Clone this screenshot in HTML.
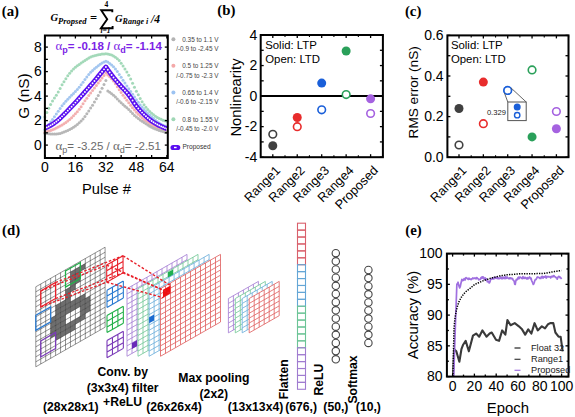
<!DOCTYPE html>
<html><head><meta charset="utf-8"><style>
html,body{margin:0;padding:0;background:#fff;overflow:hidden}
svg{display:block}
</style></head><body>
<svg width="575" height="417" viewBox="0 0 575 417">
<rect width="575" height="417" fill="#fff"/>
<text x="1.80" y="15.90" font-size="14.8" text-anchor="start" font-weight="bold" font-style="normal" fill="#000" font-family='"Liberation Serif", serif' >(a)</text>
<text x="217.30" y="15.40" font-size="14.8" text-anchor="start" font-weight="bold" font-style="normal" fill="#000" font-family='"Liberation Serif", serif' >(b)</text>
<text x="404.90" y="16.10" font-size="14.8" text-anchor="start" font-weight="bold" font-style="normal" fill="#000" font-family='"Liberation Serif", serif' >(c)</text>
<text x="2.00" y="235.20" font-size="14.8" text-anchor="start" font-weight="bold" font-style="normal" fill="#000" font-family='"Liberation Serif", serif' >(d)</text>
<text x="405.30" y="235.30" font-size="14.8" text-anchor="start" font-weight="bold" font-style="normal" fill="#000" font-family='"Liberation Serif", serif' >(e)</text>
<g>
<circle cx="44.90" cy="116.92" r="1.50" fill="#a3d9b9" stroke="none" stroke-width="1" />
<circle cx="46.81" cy="112.50" r="1.50" fill="#a3d9b9" stroke="none" stroke-width="1" />
<circle cx="48.71" cy="108.35" r="1.50" fill="#a3d9b9" stroke="none" stroke-width="1" />
<circle cx="50.62" cy="104.53" r="1.50" fill="#a3d9b9" stroke="none" stroke-width="1" />
<circle cx="52.52" cy="101.10" r="1.50" fill="#a3d9b9" stroke="none" stroke-width="1" />
<circle cx="54.43" cy="98.06" r="1.50" fill="#a3d9b9" stroke="none" stroke-width="1" />
<circle cx="56.34" cy="95.13" r="1.50" fill="#a3d9b9" stroke="none" stroke-width="1" />
<circle cx="58.24" cy="92.02" r="1.50" fill="#a3d9b9" stroke="none" stroke-width="1" />
<circle cx="60.15" cy="88.46" r="1.50" fill="#a3d9b9" stroke="none" stroke-width="1" />
<circle cx="62.05" cy="84.83" r="1.50" fill="#a3d9b9" stroke="none" stroke-width="1" />
<circle cx="63.96" cy="81.69" r="1.50" fill="#a3d9b9" stroke="none" stroke-width="1" />
<circle cx="65.87" cy="78.70" r="1.50" fill="#a3d9b9" stroke="none" stroke-width="1" />
<circle cx="67.77" cy="75.87" r="1.50" fill="#a3d9b9" stroke="none" stroke-width="1" />
<circle cx="69.68" cy="73.27" r="1.50" fill="#a3d9b9" stroke="none" stroke-width="1" />
<circle cx="71.58" cy="70.97" r="1.50" fill="#a3d9b9" stroke="none" stroke-width="1" />
<circle cx="73.49" cy="69.02" r="1.50" fill="#a3d9b9" stroke="none" stroke-width="1" />
<circle cx="75.40" cy="67.31" r="1.50" fill="#a3d9b9" stroke="none" stroke-width="1" />
<circle cx="77.30" cy="65.78" r="1.50" fill="#a3d9b9" stroke="none" stroke-width="1" />
<circle cx="79.21" cy="64.38" r="1.50" fill="#a3d9b9" stroke="none" stroke-width="1" />
<circle cx="81.11" cy="63.07" r="1.50" fill="#a3d9b9" stroke="none" stroke-width="1" />
<circle cx="83.02" cy="61.80" r="1.50" fill="#a3d9b9" stroke="none" stroke-width="1" />
<circle cx="84.93" cy="60.51" r="1.50" fill="#a3d9b9" stroke="none" stroke-width="1" />
<circle cx="86.83" cy="59.22" r="1.50" fill="#a3d9b9" stroke="none" stroke-width="1" />
<circle cx="88.74" cy="58.02" r="1.50" fill="#a3d9b9" stroke="none" stroke-width="1" />
<circle cx="90.64" cy="57.01" r="1.50" fill="#a3d9b9" stroke="none" stroke-width="1" />
<circle cx="92.55" cy="56.29" r="1.50" fill="#a3d9b9" stroke="none" stroke-width="1" />
<circle cx="94.46" cy="55.75" r="1.50" fill="#a3d9b9" stroke="none" stroke-width="1" />
<circle cx="96.36" cy="55.24" r="1.50" fill="#a3d9b9" stroke="none" stroke-width="1" />
<circle cx="98.27" cy="54.79" r="1.50" fill="#a3d9b9" stroke="none" stroke-width="1" />
<circle cx="100.17" cy="54.40" r="1.50" fill="#a3d9b9" stroke="none" stroke-width="1" />
<circle cx="102.08" cy="54.10" r="1.50" fill="#a3d9b9" stroke="none" stroke-width="1" />
<circle cx="103.99" cy="53.91" r="1.50" fill="#a3d9b9" stroke="none" stroke-width="1" />
<circle cx="105.89" cy="53.84" r="1.50" fill="#a3d9b9" stroke="none" stroke-width="1" />
<circle cx="107.80" cy="54.02" r="1.50" fill="#a3d9b9" stroke="none" stroke-width="1" />
<circle cx="109.70" cy="54.48" r="1.50" fill="#a3d9b9" stroke="none" stroke-width="1" />
<circle cx="111.61" cy="55.06" r="1.50" fill="#a3d9b9" stroke="none" stroke-width="1" />
<circle cx="113.52" cy="55.90" r="1.50" fill="#a3d9b9" stroke="none" stroke-width="1" />
<circle cx="115.42" cy="57.14" r="1.50" fill="#a3d9b9" stroke="none" stroke-width="1" />
<circle cx="117.33" cy="58.67" r="1.50" fill="#a3d9b9" stroke="none" stroke-width="1" />
<circle cx="119.23" cy="60.57" r="1.50" fill="#a3d9b9" stroke="none" stroke-width="1" />
<circle cx="121.14" cy="63.21" r="1.50" fill="#a3d9b9" stroke="none" stroke-width="1" />
<circle cx="123.05" cy="66.09" r="1.50" fill="#a3d9b9" stroke="none" stroke-width="1" />
<circle cx="124.95" cy="68.95" r="1.50" fill="#a3d9b9" stroke="none" stroke-width="1" />
<circle cx="126.86" cy="71.99" r="1.50" fill="#a3d9b9" stroke="none" stroke-width="1" />
<circle cx="128.76" cy="75.27" r="1.50" fill="#a3d9b9" stroke="none" stroke-width="1" />
<circle cx="130.67" cy="79.01" r="1.50" fill="#a3d9b9" stroke="none" stroke-width="1" />
<circle cx="132.58" cy="83.13" r="1.50" fill="#a3d9b9" stroke="none" stroke-width="1" />
<circle cx="134.48" cy="87.30" r="1.50" fill="#a3d9b9" stroke="none" stroke-width="1" />
<circle cx="136.39" cy="91.20" r="1.50" fill="#a3d9b9" stroke="none" stroke-width="1" />
<circle cx="138.29" cy="94.87" r="1.50" fill="#a3d9b9" stroke="none" stroke-width="1" />
<circle cx="140.20" cy="98.45" r="1.50" fill="#a3d9b9" stroke="none" stroke-width="1" />
<circle cx="142.11" cy="101.78" r="1.50" fill="#a3d9b9" stroke="none" stroke-width="1" />
<circle cx="144.01" cy="104.67" r="1.50" fill="#a3d9b9" stroke="none" stroke-width="1" />
<circle cx="145.92" cy="107.18" r="1.50" fill="#a3d9b9" stroke="none" stroke-width="1" />
<circle cx="147.82" cy="109.46" r="1.50" fill="#a3d9b9" stroke="none" stroke-width="1" />
<circle cx="149.73" cy="111.48" r="1.50" fill="#a3d9b9" stroke="none" stroke-width="1" />
<circle cx="151.64" cy="113.25" r="1.50" fill="#a3d9b9" stroke="none" stroke-width="1" />
<circle cx="153.54" cy="114.82" r="1.50" fill="#a3d9b9" stroke="none" stroke-width="1" />
<circle cx="155.45" cy="116.25" r="1.50" fill="#a3d9b9" stroke="none" stroke-width="1" />
<circle cx="157.35" cy="117.50" r="1.50" fill="#a3d9b9" stroke="none" stroke-width="1" />
<circle cx="159.26" cy="118.52" r="1.50" fill="#a3d9b9" stroke="none" stroke-width="1" />
<circle cx="161.17" cy="119.37" r="1.50" fill="#a3d9b9" stroke="none" stroke-width="1" />
<circle cx="163.07" cy="120.13" r="1.50" fill="#a3d9b9" stroke="none" stroke-width="1" />
<circle cx="164.98" cy="120.76" r="1.50" fill="#a3d9b9" stroke="none" stroke-width="1" />
<circle cx="166.88" cy="121.21" r="1.50" fill="#a3d9b9" stroke="none" stroke-width="1" />
<circle cx="44.90" cy="129.79" r="1.50" fill="#a3c6f0" stroke="none" stroke-width="1" />
<circle cx="46.81" cy="127.20" r="1.50" fill="#a3c6f0" stroke="none" stroke-width="1" />
<circle cx="48.71" cy="124.60" r="1.50" fill="#a3c6f0" stroke="none" stroke-width="1" />
<circle cx="50.62" cy="122.00" r="1.50" fill="#a3c6f0" stroke="none" stroke-width="1" />
<circle cx="52.52" cy="119.38" r="1.50" fill="#a3c6f0" stroke="none" stroke-width="1" />
<circle cx="54.43" cy="116.69" r="1.50" fill="#a3c6f0" stroke="none" stroke-width="1" />
<circle cx="56.34" cy="113.94" r="1.50" fill="#a3c6f0" stroke="none" stroke-width="1" />
<circle cx="58.24" cy="111.17" r="1.50" fill="#a3c6f0" stroke="none" stroke-width="1" />
<circle cx="60.15" cy="108.46" r="1.50" fill="#a3c6f0" stroke="none" stroke-width="1" />
<circle cx="62.05" cy="105.86" r="1.50" fill="#a3c6f0" stroke="none" stroke-width="1" />
<circle cx="63.96" cy="103.45" r="1.50" fill="#a3c6f0" stroke="none" stroke-width="1" />
<circle cx="65.87" cy="101.24" r="1.50" fill="#a3c6f0" stroke="none" stroke-width="1" />
<circle cx="67.77" cy="99.18" r="1.50" fill="#a3c6f0" stroke="none" stroke-width="1" />
<circle cx="69.68" cy="97.22" r="1.50" fill="#a3c6f0" stroke="none" stroke-width="1" />
<circle cx="71.58" cy="95.31" r="1.50" fill="#a3c6f0" stroke="none" stroke-width="1" />
<circle cx="73.49" cy="93.41" r="1.50" fill="#a3c6f0" stroke="none" stroke-width="1" />
<circle cx="75.40" cy="91.46" r="1.50" fill="#a3c6f0" stroke="none" stroke-width="1" />
<circle cx="77.30" cy="89.42" r="1.50" fill="#a3c6f0" stroke="none" stroke-width="1" />
<circle cx="79.21" cy="87.24" r="1.50" fill="#a3c6f0" stroke="none" stroke-width="1" />
<circle cx="81.11" cy="84.82" r="1.50" fill="#a3c6f0" stroke="none" stroke-width="1" />
<circle cx="83.02" cy="82.23" r="1.50" fill="#a3c6f0" stroke="none" stroke-width="1" />
<circle cx="84.93" cy="79.59" r="1.50" fill="#a3c6f0" stroke="none" stroke-width="1" />
<circle cx="86.83" cy="76.98" r="1.50" fill="#a3c6f0" stroke="none" stroke-width="1" />
<circle cx="88.74" cy="74.50" r="1.50" fill="#a3c6f0" stroke="none" stroke-width="1" />
<circle cx="90.64" cy="72.27" r="1.50" fill="#a3c6f0" stroke="none" stroke-width="1" />
<circle cx="92.55" cy="70.38" r="1.50" fill="#a3c6f0" stroke="none" stroke-width="1" />
<circle cx="94.46" cy="68.72" r="1.50" fill="#a3c6f0" stroke="none" stroke-width="1" />
<circle cx="96.36" cy="67.15" r="1.50" fill="#a3c6f0" stroke="none" stroke-width="1" />
<circle cx="98.27" cy="65.68" r="1.50" fill="#a3c6f0" stroke="none" stroke-width="1" />
<circle cx="100.17" cy="64.33" r="1.50" fill="#a3c6f0" stroke="none" stroke-width="1" />
<circle cx="102.08" cy="63.12" r="1.50" fill="#a3c6f0" stroke="none" stroke-width="1" />
<circle cx="103.99" cy="62.06" r="1.50" fill="#a3c6f0" stroke="none" stroke-width="1" />
<circle cx="105.89" cy="61.19" r="1.50" fill="#a3c6f0" stroke="none" stroke-width="1" />
<circle cx="107.80" cy="62.11" r="1.50" fill="#a3c6f0" stroke="none" stroke-width="1" />
<circle cx="109.70" cy="63.39" r="1.50" fill="#a3c6f0" stroke="none" stroke-width="1" />
<circle cx="111.61" cy="64.95" r="1.50" fill="#a3c6f0" stroke="none" stroke-width="1" />
<circle cx="113.52" cy="66.70" r="1.50" fill="#a3c6f0" stroke="none" stroke-width="1" />
<circle cx="115.42" cy="68.89" r="1.50" fill="#a3c6f0" stroke="none" stroke-width="1" />
<circle cx="117.33" cy="71.60" r="1.50" fill="#a3c6f0" stroke="none" stroke-width="1" />
<circle cx="119.23" cy="74.51" r="1.50" fill="#a3c6f0" stroke="none" stroke-width="1" />
<circle cx="121.14" cy="77.33" r="1.50" fill="#a3c6f0" stroke="none" stroke-width="1" />
<circle cx="123.05" cy="80.15" r="1.50" fill="#a3c6f0" stroke="none" stroke-width="1" />
<circle cx="124.95" cy="83.03" r="1.50" fill="#a3c6f0" stroke="none" stroke-width="1" />
<circle cx="126.86" cy="85.91" r="1.50" fill="#a3c6f0" stroke="none" stroke-width="1" />
<circle cx="128.76" cy="88.75" r="1.50" fill="#a3c6f0" stroke="none" stroke-width="1" />
<circle cx="130.67" cy="91.56" r="1.50" fill="#a3c6f0" stroke="none" stroke-width="1" />
<circle cx="132.58" cy="94.37" r="1.50" fill="#a3c6f0" stroke="none" stroke-width="1" />
<circle cx="134.48" cy="97.12" r="1.50" fill="#a3c6f0" stroke="none" stroke-width="1" />
<circle cx="136.39" cy="99.77" r="1.50" fill="#a3c6f0" stroke="none" stroke-width="1" />
<circle cx="138.29" cy="102.37" r="1.50" fill="#a3c6f0" stroke="none" stroke-width="1" />
<circle cx="140.20" cy="104.92" r="1.50" fill="#a3c6f0" stroke="none" stroke-width="1" />
<circle cx="142.11" cy="107.35" r="1.50" fill="#a3c6f0" stroke="none" stroke-width="1" />
<circle cx="144.01" cy="109.57" r="1.50" fill="#a3c6f0" stroke="none" stroke-width="1" />
<circle cx="145.92" cy="111.59" r="1.50" fill="#a3c6f0" stroke="none" stroke-width="1" />
<circle cx="147.82" cy="113.46" r="1.50" fill="#a3c6f0" stroke="none" stroke-width="1" />
<circle cx="149.73" cy="115.23" r="1.50" fill="#a3c6f0" stroke="none" stroke-width="1" />
<circle cx="151.64" cy="116.92" r="1.50" fill="#a3c6f0" stroke="none" stroke-width="1" />
<circle cx="153.54" cy="118.61" r="1.50" fill="#a3c6f0" stroke="none" stroke-width="1" />
<circle cx="155.45" cy="120.25" r="1.50" fill="#a3c6f0" stroke="none" stroke-width="1" />
<circle cx="157.35" cy="121.76" r="1.50" fill="#a3c6f0" stroke="none" stroke-width="1" />
<circle cx="159.26" cy="123.05" r="1.50" fill="#a3c6f0" stroke="none" stroke-width="1" />
<circle cx="161.17" cy="124.16" r="1.50" fill="#a3c6f0" stroke="none" stroke-width="1" />
<circle cx="163.07" cy="125.16" r="1.50" fill="#a3c6f0" stroke="none" stroke-width="1" />
<circle cx="164.98" cy="126.02" r="1.50" fill="#a3c6f0" stroke="none" stroke-width="1" />
<circle cx="166.88" cy="126.72" r="1.50" fill="#a3c6f0" stroke="none" stroke-width="1" />
<circle cx="44.90" cy="132.24" r="1.50" fill="#f3b0b0" stroke="none" stroke-width="1" />
<circle cx="46.81" cy="131.72" r="1.50" fill="#f3b0b0" stroke="none" stroke-width="1" />
<circle cx="48.71" cy="131.12" r="1.50" fill="#f3b0b0" stroke="none" stroke-width="1" />
<circle cx="50.62" cy="130.43" r="1.50" fill="#f3b0b0" stroke="none" stroke-width="1" />
<circle cx="52.52" cy="129.68" r="1.50" fill="#f3b0b0" stroke="none" stroke-width="1" />
<circle cx="54.43" cy="128.88" r="1.50" fill="#f3b0b0" stroke="none" stroke-width="1" />
<circle cx="56.34" cy="128.02" r="1.50" fill="#f3b0b0" stroke="none" stroke-width="1" />
<circle cx="58.24" cy="127.08" r="1.50" fill="#f3b0b0" stroke="none" stroke-width="1" />
<circle cx="60.15" cy="126.05" r="1.50" fill="#f3b0b0" stroke="none" stroke-width="1" />
<circle cx="62.05" cy="124.92" r="1.50" fill="#f3b0b0" stroke="none" stroke-width="1" />
<circle cx="63.96" cy="123.70" r="1.50" fill="#f3b0b0" stroke="none" stroke-width="1" />
<circle cx="65.87" cy="122.38" r="1.50" fill="#f3b0b0" stroke="none" stroke-width="1" />
<circle cx="67.77" cy="120.97" r="1.50" fill="#f3b0b0" stroke="none" stroke-width="1" />
<circle cx="69.68" cy="119.42" r="1.50" fill="#f3b0b0" stroke="none" stroke-width="1" />
<circle cx="71.58" cy="117.70" r="1.50" fill="#f3b0b0" stroke="none" stroke-width="1" />
<circle cx="73.49" cy="115.83" r="1.50" fill="#f3b0b0" stroke="none" stroke-width="1" />
<circle cx="75.40" cy="113.80" r="1.50" fill="#f3b0b0" stroke="none" stroke-width="1" />
<circle cx="77.30" cy="111.63" r="1.50" fill="#f3b0b0" stroke="none" stroke-width="1" />
<circle cx="79.21" cy="109.31" r="1.50" fill="#f3b0b0" stroke="none" stroke-width="1" />
<circle cx="81.11" cy="106.73" r="1.50" fill="#f3b0b0" stroke="none" stroke-width="1" />
<circle cx="83.02" cy="103.69" r="1.50" fill="#f3b0b0" stroke="none" stroke-width="1" />
<circle cx="84.93" cy="100.85" r="1.50" fill="#f3b0b0" stroke="none" stroke-width="1" />
<circle cx="86.83" cy="98.18" r="1.50" fill="#f3b0b0" stroke="none" stroke-width="1" />
<circle cx="88.74" cy="95.58" r="1.50" fill="#f3b0b0" stroke="none" stroke-width="1" />
<circle cx="90.64" cy="93.03" r="1.50" fill="#f3b0b0" stroke="none" stroke-width="1" />
<circle cx="92.55" cy="90.48" r="1.50" fill="#f3b0b0" stroke="none" stroke-width="1" />
<circle cx="94.46" cy="87.94" r="1.50" fill="#f3b0b0" stroke="none" stroke-width="1" />
<circle cx="96.36" cy="85.41" r="1.50" fill="#f3b0b0" stroke="none" stroke-width="1" />
<circle cx="98.27" cy="82.91" r="1.50" fill="#f3b0b0" stroke="none" stroke-width="1" />
<circle cx="100.17" cy="80.42" r="1.50" fill="#f3b0b0" stroke="none" stroke-width="1" />
<circle cx="102.08" cy="77.95" r="1.50" fill="#f3b0b0" stroke="none" stroke-width="1" />
<circle cx="103.99" cy="75.50" r="1.50" fill="#f3b0b0" stroke="none" stroke-width="1" />
<circle cx="105.89" cy="73.07" r="1.50" fill="#f3b0b0" stroke="none" stroke-width="1" />
<circle cx="107.80" cy="75.00" r="1.50" fill="#f3b0b0" stroke="none" stroke-width="1" />
<circle cx="109.70" cy="76.82" r="1.50" fill="#f3b0b0" stroke="none" stroke-width="1" />
<circle cx="111.61" cy="78.86" r="1.50" fill="#f3b0b0" stroke="none" stroke-width="1" />
<circle cx="113.52" cy="81.12" r="1.50" fill="#f3b0b0" stroke="none" stroke-width="1" />
<circle cx="115.42" cy="83.83" r="1.50" fill="#f3b0b0" stroke="none" stroke-width="1" />
<circle cx="117.33" cy="86.83" r="1.50" fill="#f3b0b0" stroke="none" stroke-width="1" />
<circle cx="119.23" cy="89.84" r="1.50" fill="#f3b0b0" stroke="none" stroke-width="1" />
<circle cx="121.14" cy="92.62" r="1.50" fill="#f3b0b0" stroke="none" stroke-width="1" />
<circle cx="123.05" cy="95.26" r="1.50" fill="#f3b0b0" stroke="none" stroke-width="1" />
<circle cx="124.95" cy="97.84" r="1.50" fill="#f3b0b0" stroke="none" stroke-width="1" />
<circle cx="126.86" cy="100.36" r="1.50" fill="#f3b0b0" stroke="none" stroke-width="1" />
<circle cx="128.76" cy="102.84" r="1.50" fill="#f3b0b0" stroke="none" stroke-width="1" />
<circle cx="130.67" cy="105.31" r="1.50" fill="#f3b0b0" stroke="none" stroke-width="1" />
<circle cx="132.58" cy="107.75" r="1.50" fill="#f3b0b0" stroke="none" stroke-width="1" />
<circle cx="134.48" cy="110.09" r="1.50" fill="#f3b0b0" stroke="none" stroke-width="1" />
<circle cx="136.39" cy="112.23" r="1.50" fill="#f3b0b0" stroke="none" stroke-width="1" />
<circle cx="138.29" cy="114.20" r="1.50" fill="#f3b0b0" stroke="none" stroke-width="1" />
<circle cx="140.20" cy="116.05" r="1.50" fill="#f3b0b0" stroke="none" stroke-width="1" />
<circle cx="142.11" cy="117.77" r="1.50" fill="#f3b0b0" stroke="none" stroke-width="1" />
<circle cx="144.01" cy="119.38" r="1.50" fill="#f3b0b0" stroke="none" stroke-width="1" />
<circle cx="145.92" cy="120.85" r="1.50" fill="#f3b0b0" stroke="none" stroke-width="1" />
<circle cx="147.82" cy="122.23" r="1.50" fill="#f3b0b0" stroke="none" stroke-width="1" />
<circle cx="149.73" cy="123.53" r="1.50" fill="#f3b0b0" stroke="none" stroke-width="1" />
<circle cx="151.64" cy="124.77" r="1.50" fill="#f3b0b0" stroke="none" stroke-width="1" />
<circle cx="153.54" cy="125.98" r="1.50" fill="#f3b0b0" stroke="none" stroke-width="1" />
<circle cx="155.45" cy="127.16" r="1.50" fill="#f3b0b0" stroke="none" stroke-width="1" />
<circle cx="157.35" cy="128.24" r="1.50" fill="#f3b0b0" stroke="none" stroke-width="1" />
<circle cx="159.26" cy="129.17" r="1.50" fill="#f3b0b0" stroke="none" stroke-width="1" />
<circle cx="161.17" cy="129.98" r="1.50" fill="#f3b0b0" stroke="none" stroke-width="1" />
<circle cx="163.07" cy="130.71" r="1.50" fill="#f3b0b0" stroke="none" stroke-width="1" />
<circle cx="164.98" cy="131.35" r="1.50" fill="#f3b0b0" stroke="none" stroke-width="1" />
<circle cx="166.88" cy="131.87" r="1.50" fill="#f3b0b0" stroke="none" stroke-width="1" />
<circle cx="44.90" cy="133.22" r="1.50" fill="#b7b7b7" stroke="none" stroke-width="1" />
<circle cx="46.81" cy="133.59" r="1.50" fill="#b7b7b7" stroke="none" stroke-width="1" />
<circle cx="48.71" cy="133.83" r="1.50" fill="#b7b7b7" stroke="none" stroke-width="1" />
<circle cx="50.62" cy="133.98" r="1.50" fill="#b7b7b7" stroke="none" stroke-width="1" />
<circle cx="52.52" cy="134.05" r="1.50" fill="#b7b7b7" stroke="none" stroke-width="1" />
<circle cx="54.43" cy="134.07" r="1.50" fill="#b7b7b7" stroke="none" stroke-width="1" />
<circle cx="56.34" cy="134.07" r="1.50" fill="#b7b7b7" stroke="none" stroke-width="1" />
<circle cx="58.24" cy="133.87" r="1.50" fill="#b7b7b7" stroke="none" stroke-width="1" />
<circle cx="60.15" cy="133.42" r="1.50" fill="#b7b7b7" stroke="none" stroke-width="1" />
<circle cx="62.05" cy="132.80" r="1.50" fill="#b7b7b7" stroke="none" stroke-width="1" />
<circle cx="63.96" cy="132.04" r="1.50" fill="#b7b7b7" stroke="none" stroke-width="1" />
<circle cx="65.87" cy="131.23" r="1.50" fill="#b7b7b7" stroke="none" stroke-width="1" />
<circle cx="67.77" cy="130.40" r="1.50" fill="#b7b7b7" stroke="none" stroke-width="1" />
<circle cx="69.68" cy="129.51" r="1.50" fill="#b7b7b7" stroke="none" stroke-width="1" />
<circle cx="71.58" cy="128.47" r="1.50" fill="#b7b7b7" stroke="none" stroke-width="1" />
<circle cx="73.49" cy="127.27" r="1.50" fill="#b7b7b7" stroke="none" stroke-width="1" />
<circle cx="75.40" cy="125.94" r="1.50" fill="#b7b7b7" stroke="none" stroke-width="1" />
<circle cx="77.30" cy="124.47" r="1.50" fill="#b7b7b7" stroke="none" stroke-width="1" />
<circle cx="79.21" cy="122.87" r="1.50" fill="#b7b7b7" stroke="none" stroke-width="1" />
<circle cx="81.11" cy="121.09" r="1.50" fill="#b7b7b7" stroke="none" stroke-width="1" />
<circle cx="83.02" cy="118.96" r="1.50" fill="#b7b7b7" stroke="none" stroke-width="1" />
<circle cx="84.93" cy="116.53" r="1.50" fill="#b7b7b7" stroke="none" stroke-width="1" />
<circle cx="86.83" cy="113.85" r="1.50" fill="#b7b7b7" stroke="none" stroke-width="1" />
<circle cx="88.74" cy="111.02" r="1.50" fill="#b7b7b7" stroke="none" stroke-width="1" />
<circle cx="90.64" cy="108.09" r="1.50" fill="#b7b7b7" stroke="none" stroke-width="1" />
<circle cx="92.55" cy="105.13" r="1.50" fill="#b7b7b7" stroke="none" stroke-width="1" />
<circle cx="94.46" cy="102.06" r="1.50" fill="#b7b7b7" stroke="none" stroke-width="1" />
<circle cx="96.36" cy="98.83" r="1.50" fill="#b7b7b7" stroke="none" stroke-width="1" />
<circle cx="98.27" cy="95.45" r="1.50" fill="#b7b7b7" stroke="none" stroke-width="1" />
<circle cx="100.17" cy="91.92" r="1.50" fill="#b7b7b7" stroke="none" stroke-width="1" />
<circle cx="102.08" cy="88.26" r="1.50" fill="#b7b7b7" stroke="none" stroke-width="1" />
<circle cx="103.99" cy="84.47" r="1.50" fill="#b7b7b7" stroke="none" stroke-width="1" />
<circle cx="105.89" cy="80.54" r="1.50" fill="#b7b7b7" stroke="none" stroke-width="1" />
<circle cx="107.80" cy="91.03" r="1.50" fill="#b7b7b7" stroke="none" stroke-width="1" />
<circle cx="109.70" cy="92.26" r="1.50" fill="#b7b7b7" stroke="none" stroke-width="1" />
<circle cx="111.61" cy="93.63" r="1.50" fill="#b7b7b7" stroke="none" stroke-width="1" />
<circle cx="113.52" cy="95.14" r="1.50" fill="#b7b7b7" stroke="none" stroke-width="1" />
<circle cx="115.42" cy="96.94" r="1.50" fill="#b7b7b7" stroke="none" stroke-width="1" />
<circle cx="117.33" cy="98.92" r="1.50" fill="#b7b7b7" stroke="none" stroke-width="1" />
<circle cx="119.23" cy="100.91" r="1.50" fill="#b7b7b7" stroke="none" stroke-width="1" />
<circle cx="121.14" cy="102.76" r="1.50" fill="#b7b7b7" stroke="none" stroke-width="1" />
<circle cx="123.05" cy="104.48" r="1.50" fill="#b7b7b7" stroke="none" stroke-width="1" />
<circle cx="124.95" cy="106.15" r="1.50" fill="#b7b7b7" stroke="none" stroke-width="1" />
<circle cx="126.86" cy="107.83" r="1.50" fill="#b7b7b7" stroke="none" stroke-width="1" />
<circle cx="128.76" cy="109.57" r="1.50" fill="#b7b7b7" stroke="none" stroke-width="1" />
<circle cx="130.67" cy="111.47" r="1.50" fill="#b7b7b7" stroke="none" stroke-width="1" />
<circle cx="132.58" cy="113.46" r="1.50" fill="#b7b7b7" stroke="none" stroke-width="1" />
<circle cx="134.48" cy="115.38" r="1.50" fill="#b7b7b7" stroke="none" stroke-width="1" />
<circle cx="136.39" cy="117.08" r="1.50" fill="#b7b7b7" stroke="none" stroke-width="1" />
<circle cx="138.29" cy="118.55" r="1.50" fill="#b7b7b7" stroke="none" stroke-width="1" />
<circle cx="140.20" cy="119.90" r="1.50" fill="#b7b7b7" stroke="none" stroke-width="1" />
<circle cx="142.11" cy="121.18" r="1.50" fill="#b7b7b7" stroke="none" stroke-width="1" />
<circle cx="144.01" cy="122.44" r="1.50" fill="#b7b7b7" stroke="none" stroke-width="1" />
<circle cx="145.92" cy="123.72" r="1.50" fill="#b7b7b7" stroke="none" stroke-width="1" />
<circle cx="147.82" cy="124.98" r="1.50" fill="#b7b7b7" stroke="none" stroke-width="1" />
<circle cx="149.73" cy="126.17" r="1.50" fill="#b7b7b7" stroke="none" stroke-width="1" />
<circle cx="151.64" cy="127.22" r="1.50" fill="#b7b7b7" stroke="none" stroke-width="1" />
<circle cx="153.54" cy="128.13" r="1.50" fill="#b7b7b7" stroke="none" stroke-width="1" />
<circle cx="155.45" cy="128.96" r="1.50" fill="#b7b7b7" stroke="none" stroke-width="1" />
<circle cx="157.35" cy="129.72" r="1.50" fill="#b7b7b7" stroke="none" stroke-width="1" />
<circle cx="159.26" cy="130.40" r="1.50" fill="#b7b7b7" stroke="none" stroke-width="1" />
<circle cx="161.17" cy="131.03" r="1.50" fill="#b7b7b7" stroke="none" stroke-width="1" />
<circle cx="163.07" cy="131.61" r="1.50" fill="#b7b7b7" stroke="none" stroke-width="1" />
<circle cx="164.98" cy="132.14" r="1.50" fill="#b7b7b7" stroke="none" stroke-width="1" />
<circle cx="166.88" cy="132.60" r="1.50" fill="#b7b7b7" stroke="none" stroke-width="1" />
</g>
<path d="M44.90,128.19 L46.81,127.39 L48.71,126.44 L50.62,125.37 L52.52,124.18 L54.43,122.90 L56.34,121.55 L58.24,119.98 L60.15,118.22 L62.05,116.35 L63.96,114.47 L65.87,112.60 L67.77,110.67 L69.68,108.70 L71.58,106.70 L73.49,104.67 L75.40,102.62 L77.30,100.53 L79.21,98.41 L81.11,96.27 L83.02,94.12 L84.93,91.96 L86.83,89.79 L88.74,87.62 L90.64,85.42 L92.55,83.20 L94.46,80.95 L96.36,78.67 L98.27,76.37 L100.17,74.05 L102.08,71.71 L103.99,69.34 L105.89,66.94 L107.80,69.74 L109.70,72.44 L111.61,75.02 L113.52,77.46 L115.42,79.77 L117.33,81.99 L119.23,84.16 L121.14,86.34 L123.05,88.41 L124.95,90.45 L126.86,92.57 L128.76,94.88 L130.67,97.57 L132.58,100.55 L134.48,103.52 L136.39,106.14 L138.29,108.44 L140.20,110.59 L142.11,112.59 L144.01,114.47 L145.92,116.27 L147.82,117.97 L149.73,119.54 L151.64,120.97 L153.54,122.25 L155.45,123.42 L157.35,124.50 L159.26,125.50 L161.17,126.43 L163.07,127.29 L164.98,128.09 L166.88,128.81" fill="none" stroke="#5a0ff0" stroke-width="4.8" stroke-linejoin="round"/>
<circle cx="44.90" cy="128.19" r="0.95" fill="#fff" stroke="none" stroke-width="1" />
<circle cx="46.81" cy="127.39" r="0.95" fill="#fff" stroke="none" stroke-width="1" />
<circle cx="48.71" cy="126.44" r="0.95" fill="#fff" stroke="none" stroke-width="1" />
<circle cx="50.62" cy="125.37" r="0.95" fill="#fff" stroke="none" stroke-width="1" />
<circle cx="52.52" cy="124.18" r="0.95" fill="#fff" stroke="none" stroke-width="1" />
<circle cx="54.43" cy="122.90" r="0.95" fill="#fff" stroke="none" stroke-width="1" />
<circle cx="56.34" cy="121.55" r="0.95" fill="#fff" stroke="none" stroke-width="1" />
<circle cx="58.24" cy="119.98" r="0.95" fill="#fff" stroke="none" stroke-width="1" />
<circle cx="60.15" cy="118.22" r="0.95" fill="#fff" stroke="none" stroke-width="1" />
<circle cx="62.05" cy="116.35" r="0.95" fill="#fff" stroke="none" stroke-width="1" />
<circle cx="63.96" cy="114.47" r="0.95" fill="#fff" stroke="none" stroke-width="1" />
<circle cx="65.87" cy="112.60" r="0.95" fill="#fff" stroke="none" stroke-width="1" />
<circle cx="67.77" cy="110.67" r="0.95" fill="#fff" stroke="none" stroke-width="1" />
<circle cx="69.68" cy="108.70" r="0.95" fill="#fff" stroke="none" stroke-width="1" />
<circle cx="71.58" cy="106.70" r="0.95" fill="#fff" stroke="none" stroke-width="1" />
<circle cx="73.49" cy="104.67" r="0.95" fill="#fff" stroke="none" stroke-width="1" />
<circle cx="75.40" cy="102.62" r="0.95" fill="#fff" stroke="none" stroke-width="1" />
<circle cx="77.30" cy="100.53" r="0.95" fill="#fff" stroke="none" stroke-width="1" />
<circle cx="79.21" cy="98.41" r="0.95" fill="#fff" stroke="none" stroke-width="1" />
<circle cx="81.11" cy="96.27" r="0.95" fill="#fff" stroke="none" stroke-width="1" />
<circle cx="83.02" cy="94.12" r="0.95" fill="#fff" stroke="none" stroke-width="1" />
<circle cx="84.93" cy="91.96" r="0.95" fill="#fff" stroke="none" stroke-width="1" />
<circle cx="86.83" cy="89.79" r="0.95" fill="#fff" stroke="none" stroke-width="1" />
<circle cx="88.74" cy="87.62" r="0.95" fill="#fff" stroke="none" stroke-width="1" />
<circle cx="90.64" cy="85.42" r="0.95" fill="#fff" stroke="none" stroke-width="1" />
<circle cx="92.55" cy="83.20" r="0.95" fill="#fff" stroke="none" stroke-width="1" />
<circle cx="94.46" cy="80.95" r="0.95" fill="#fff" stroke="none" stroke-width="1" />
<circle cx="96.36" cy="78.67" r="0.95" fill="#fff" stroke="none" stroke-width="1" />
<circle cx="98.27" cy="76.37" r="0.95" fill="#fff" stroke="none" stroke-width="1" />
<circle cx="100.17" cy="74.05" r="0.95" fill="#fff" stroke="none" stroke-width="1" />
<circle cx="102.08" cy="71.71" r="0.95" fill="#fff" stroke="none" stroke-width="1" />
<circle cx="103.99" cy="69.34" r="0.95" fill="#fff" stroke="none" stroke-width="1" />
<circle cx="105.89" cy="66.94" r="0.95" fill="#fff" stroke="none" stroke-width="1" />
<circle cx="107.80" cy="69.74" r="0.95" fill="#fff" stroke="none" stroke-width="1" />
<circle cx="109.70" cy="72.44" r="0.95" fill="#fff" stroke="none" stroke-width="1" />
<circle cx="111.61" cy="75.02" r="0.95" fill="#fff" stroke="none" stroke-width="1" />
<circle cx="113.52" cy="77.46" r="0.95" fill="#fff" stroke="none" stroke-width="1" />
<circle cx="115.42" cy="79.77" r="0.95" fill="#fff" stroke="none" stroke-width="1" />
<circle cx="117.33" cy="81.99" r="0.95" fill="#fff" stroke="none" stroke-width="1" />
<circle cx="119.23" cy="84.16" r="0.95" fill="#fff" stroke="none" stroke-width="1" />
<circle cx="121.14" cy="86.34" r="0.95" fill="#fff" stroke="none" stroke-width="1" />
<circle cx="123.05" cy="88.41" r="0.95" fill="#fff" stroke="none" stroke-width="1" />
<circle cx="124.95" cy="90.45" r="0.95" fill="#fff" stroke="none" stroke-width="1" />
<circle cx="126.86" cy="92.57" r="0.95" fill="#fff" stroke="none" stroke-width="1" />
<circle cx="128.76" cy="94.88" r="0.95" fill="#fff" stroke="none" stroke-width="1" />
<circle cx="130.67" cy="97.57" r="0.95" fill="#fff" stroke="none" stroke-width="1" />
<circle cx="132.58" cy="100.55" r="0.95" fill="#fff" stroke="none" stroke-width="1" />
<circle cx="134.48" cy="103.52" r="0.95" fill="#fff" stroke="none" stroke-width="1" />
<circle cx="136.39" cy="106.14" r="0.95" fill="#fff" stroke="none" stroke-width="1" />
<circle cx="138.29" cy="108.44" r="0.95" fill="#fff" stroke="none" stroke-width="1" />
<circle cx="140.20" cy="110.59" r="0.95" fill="#fff" stroke="none" stroke-width="1" />
<circle cx="142.11" cy="112.59" r="0.95" fill="#fff" stroke="none" stroke-width="1" />
<circle cx="144.01" cy="114.47" r="0.95" fill="#fff" stroke="none" stroke-width="1" />
<circle cx="145.92" cy="116.27" r="0.95" fill="#fff" stroke="none" stroke-width="1" />
<circle cx="147.82" cy="117.97" r="0.95" fill="#fff" stroke="none" stroke-width="1" />
<circle cx="149.73" cy="119.54" r="0.95" fill="#fff" stroke="none" stroke-width="1" />
<circle cx="151.64" cy="120.97" r="0.95" fill="#fff" stroke="none" stroke-width="1" />
<circle cx="153.54" cy="122.25" r="0.95" fill="#fff" stroke="none" stroke-width="1" />
<circle cx="155.45" cy="123.42" r="0.95" fill="#fff" stroke="none" stroke-width="1" />
<circle cx="157.35" cy="124.50" r="0.95" fill="#fff" stroke="none" stroke-width="1" />
<circle cx="159.26" cy="125.50" r="0.95" fill="#fff" stroke="none" stroke-width="1" />
<circle cx="161.17" cy="126.43" r="0.95" fill="#fff" stroke="none" stroke-width="1" />
<circle cx="163.07" cy="127.29" r="0.95" fill="#fff" stroke="none" stroke-width="1" />
<circle cx="164.98" cy="128.09" r="0.95" fill="#fff" stroke="none" stroke-width="1" />
<circle cx="166.88" cy="128.81" r="0.95" fill="#fff" stroke="none" stroke-width="1" />
<rect x="44.90" y="35.50" width="122.90" height="122.50" fill="none" stroke="#000" stroke-width="2" />
<line x1="44.90" y1="158.00" x2="44.90" y2="155.00" stroke="#000" stroke-width="1.3" />
<line x1="44.90" y1="35.50" x2="44.90" y2="38.50" stroke="#000" stroke-width="1.3" />
<line x1="60.15" y1="158.00" x2="60.15" y2="155.00" stroke="#000" stroke-width="1.3" />
<line x1="60.15" y1="35.50" x2="60.15" y2="38.50" stroke="#000" stroke-width="1.3" />
<line x1="75.40" y1="158.00" x2="75.40" y2="155.00" stroke="#000" stroke-width="1.3" />
<line x1="75.40" y1="35.50" x2="75.40" y2="38.50" stroke="#000" stroke-width="1.3" />
<line x1="90.64" y1="158.00" x2="90.64" y2="155.00" stroke="#000" stroke-width="1.3" />
<line x1="90.64" y1="35.50" x2="90.64" y2="38.50" stroke="#000" stroke-width="1.3" />
<line x1="105.89" y1="158.00" x2="105.89" y2="155.00" stroke="#000" stroke-width="1.3" />
<line x1="105.89" y1="35.50" x2="105.89" y2="38.50" stroke="#000" stroke-width="1.3" />
<line x1="121.14" y1="158.00" x2="121.14" y2="155.00" stroke="#000" stroke-width="1.3" />
<line x1="121.14" y1="35.50" x2="121.14" y2="38.50" stroke="#000" stroke-width="1.3" />
<line x1="136.39" y1="158.00" x2="136.39" y2="155.00" stroke="#000" stroke-width="1.3" />
<line x1="136.39" y1="35.50" x2="136.39" y2="38.50" stroke="#000" stroke-width="1.3" />
<line x1="151.64" y1="158.00" x2="151.64" y2="155.00" stroke="#000" stroke-width="1.3" />
<line x1="151.64" y1="35.50" x2="151.64" y2="38.50" stroke="#000" stroke-width="1.3" />
<line x1="166.88" y1="158.00" x2="166.88" y2="155.00" stroke="#000" stroke-width="1.3" />
<line x1="166.88" y1="35.50" x2="166.88" y2="38.50" stroke="#000" stroke-width="1.3" />
<line x1="44.90" y1="145.10" x2="47.90" y2="145.10" stroke="#000" stroke-width="1.3" />
<line x1="167.80" y1="145.10" x2="164.80" y2="145.10" stroke="#000" stroke-width="1.3" />
<line x1="44.90" y1="132.85" x2="47.90" y2="132.85" stroke="#000" stroke-width="1.3" />
<line x1="167.80" y1="132.85" x2="164.80" y2="132.85" stroke="#000" stroke-width="1.3" />
<line x1="44.90" y1="120.60" x2="47.90" y2="120.60" stroke="#000" stroke-width="1.3" />
<line x1="167.80" y1="120.60" x2="164.80" y2="120.60" stroke="#000" stroke-width="1.3" />
<line x1="44.90" y1="108.35" x2="47.90" y2="108.35" stroke="#000" stroke-width="1.3" />
<line x1="167.80" y1="108.35" x2="164.80" y2="108.35" stroke="#000" stroke-width="1.3" />
<line x1="44.90" y1="96.10" x2="47.90" y2="96.10" stroke="#000" stroke-width="1.3" />
<line x1="167.80" y1="96.10" x2="164.80" y2="96.10" stroke="#000" stroke-width="1.3" />
<line x1="44.90" y1="83.85" x2="47.90" y2="83.85" stroke="#000" stroke-width="1.3" />
<line x1="167.80" y1="83.85" x2="164.80" y2="83.85" stroke="#000" stroke-width="1.3" />
<line x1="44.90" y1="71.60" x2="47.90" y2="71.60" stroke="#000" stroke-width="1.3" />
<line x1="167.80" y1="71.60" x2="164.80" y2="71.60" stroke="#000" stroke-width="1.3" />
<line x1="44.90" y1="59.35" x2="47.90" y2="59.35" stroke="#000" stroke-width="1.3" />
<line x1="167.80" y1="59.35" x2="164.80" y2="59.35" stroke="#000" stroke-width="1.3" />
<line x1="44.90" y1="47.10" x2="47.90" y2="47.10" stroke="#000" stroke-width="1.3" />
<line x1="167.80" y1="47.10" x2="164.80" y2="47.10" stroke="#000" stroke-width="1.3" />
<text x="41.70" y="149.90" font-size="14.0" text-anchor="end" font-weight="normal" font-style="normal" fill="#000" font-family='"Liberation Sans", sans-serif' >0</text>
<text x="41.70" y="125.40" font-size="14.0" text-anchor="end" font-weight="normal" font-style="normal" fill="#000" font-family='"Liberation Sans", sans-serif' >2</text>
<text x="41.70" y="100.90" font-size="14.0" text-anchor="end" font-weight="normal" font-style="normal" fill="#000" font-family='"Liberation Sans", sans-serif' >4</text>
<text x="41.70" y="76.40" font-size="14.0" text-anchor="end" font-weight="normal" font-style="normal" fill="#000" font-family='"Liberation Sans", sans-serif' >6</text>
<text x="41.70" y="51.90" font-size="14.0" text-anchor="end" font-weight="normal" font-style="normal" fill="#000" font-family='"Liberation Sans", sans-serif' >8</text>
<text x="44.90" y="171.80" font-size="14.0" text-anchor="middle" font-weight="normal" font-style="normal" fill="#000" font-family='"Liberation Sans", sans-serif' >0</text>
<text x="75.40" y="171.80" font-size="14.0" text-anchor="middle" font-weight="normal" font-style="normal" fill="#000" font-family='"Liberation Sans", sans-serif' >16</text>
<text x="105.89" y="171.80" font-size="14.0" text-anchor="middle" font-weight="normal" font-style="normal" fill="#000" font-family='"Liberation Sans", sans-serif' >32</text>
<text x="136.39" y="171.80" font-size="14.0" text-anchor="middle" font-weight="normal" font-style="normal" fill="#000" font-family='"Liberation Sans", sans-serif' >48</text>
<text x="166.88" y="171.80" font-size="14.0" text-anchor="middle" font-weight="normal" font-style="normal" fill="#000" font-family='"Liberation Sans", sans-serif' >64</text>
<text x="106.50" y="193.90" font-size="14.7" text-anchor="middle" font-weight="normal" font-style="normal" fill="#000" font-family='"Liberation Sans", sans-serif' >Pulse #</text>
<text transform="translate(28.6,96) rotate(-90)" x="0" y="0" font-size="15.4" text-anchor="middle" font-family='"Liberation Sans", sans-serif'>G (nS)</text>
<text x="55.4" y="49.6" font-size="11.5" font-weight="bold" fill="#7b22e6" font-family='"Liberation Sans", sans-serif'><tspan font-family='"Liberation Serif", serif' font-weight="normal" font-size="13">α</tspan><tspan dy="3" font-size="9">p</tspan><tspan dy="-3">= -0.18 / </tspan><tspan font-family='"Liberation Serif", serif' font-weight="normal" font-size="13">α</tspan><tspan dy="3" font-size="9">d</tspan><tspan dy="-3">= -1.14</tspan></text>
<text x="55.4" y="150.3" font-size="11.5" fill="#6a6a6a" font-family='"Liberation Sans", sans-serif'><tspan font-family='"Liberation Serif", serif' font-size="13">α</tspan><tspan dy="3" font-size="9">p</tspan><tspan dy="-3">= -3.25 / </tspan><tspan font-family='"Liberation Serif", serif' font-size="13">α</tspan><tspan dy="3" font-size="9">d</tspan><tspan dy="-3">= -2.51</tspan></text>
<text x="50.5" y="21.3" font-size="10.5" font-weight="bold" font-style="italic" font-family='"Liberation Serif", serif'>G<tspan font-size="8.5" dy="2.3">Propsed</tspan></text>
<text x="90.00" y="22.00" font-size="12.5" text-anchor="start" font-weight="bold" font-style="normal" fill="#000" font-family='"Liberation Serif", serif' >=</text>
<path d="M112.3,12.3 L112.3,10.2 L101.2,10.2 L107.2,19.3 L100.9,28.3 L112.6,28.3 L112.6,26" fill="none" stroke="#000" stroke-width="1.9" stroke-linejoin="miter"/>
<text x="104.60" y="7.30" font-size="7.6" text-anchor="start" font-weight="bold" font-style="normal" fill="#000" font-family='"Liberation Serif", serif' >4</text>
<text x="100.40" y="33.20" font-size="7.6" text-anchor="start" font-weight="bold" font-style="italic" fill="#000" font-family='"Liberation Serif", serif' >i=1</text>
<text x="115" y="21.5" font-size="10.5" font-weight="bold" font-style="italic" font-family='"Liberation Serif", serif'>G<tspan font-size="8" dy="2">Range i</tspan></text>
<text x="151.00" y="22.80" font-size="11.5" text-anchor="start" font-weight="bold" font-style="italic" fill="#000" font-family='"Liberation Serif", serif' >/4</text>
<circle cx="173.40" cy="39.20" r="2.00" fill="#b3b3b3" stroke="none" stroke-width="1" />
<text x="218.50" y="41.50" font-size="6.4" text-anchor="end" font-weight="normal" font-style="normal" fill="#444" font-family='"Liberation Sans", sans-serif' >0.35 to 1.1 V</text>
<text x="218.50" y="51.00" font-size="6.4" text-anchor="end" font-weight="normal" font-style="normal" fill="#444" font-family='"Liberation Sans", sans-serif' >/-0.9 to -2.45 V</text>
<circle cx="173.40" cy="65.80" r="2.00" fill="#f4a9a9" stroke="none" stroke-width="1" />
<text x="218.50" y="68.10" font-size="6.4" text-anchor="end" font-weight="normal" font-style="normal" fill="#444" font-family='"Liberation Sans", sans-serif' >0.5 to 1.25 V</text>
<text x="218.50" y="77.60" font-size="6.4" text-anchor="end" font-weight="normal" font-style="normal" fill="#444" font-family='"Liberation Sans", sans-serif' >/-0.75 to -2.3 V</text>
<circle cx="173.40" cy="92.40" r="2.00" fill="#9cc3f2" stroke="none" stroke-width="1" />
<text x="218.50" y="94.70" font-size="6.4" text-anchor="end" font-weight="normal" font-style="normal" fill="#444" font-family='"Liberation Sans", sans-serif' >0.65 to 1.4 V</text>
<text x="218.50" y="104.20" font-size="6.4" text-anchor="end" font-weight="normal" font-style="normal" fill="#444" font-family='"Liberation Sans", sans-serif' >/-0.6 to -2.15 V</text>
<circle cx="173.40" cy="119.20" r="2.00" fill="#9fd7b5" stroke="none" stroke-width="1" />
<text x="218.50" y="121.50" font-size="6.4" text-anchor="end" font-weight="normal" font-style="normal" fill="#444" font-family='"Liberation Sans", sans-serif' >0.8 to 1.55 V</text>
<text x="218.50" y="131.00" font-size="6.4" text-anchor="end" font-weight="normal" font-style="normal" fill="#444" font-family='"Liberation Sans", sans-serif' >/-0.45 to -2.0 V</text>
<rect x="170.5" y="144.9" width="9.8" height="5.2" rx="2.6" fill="#5a0ff0"/>
<rect x="174.00" y="146.80" width="2.60" height="1.40" fill="#fff" stroke="none" stroke-width="1" />
<text x="182.40" y="149.40" font-size="6.6" text-anchor="start" font-weight="normal" font-style="normal" fill="#333" font-family='"Liberation Sans", sans-serif' >Proposed</text>
<rect x="260.70" y="35.00" width="122.20" height="122.20" fill="none" stroke="#000" stroke-width="2" />
<line x1="260.70" y1="96.10" x2="382.90" y2="96.10" stroke="#000" stroke-width="2" />
<line x1="272.80" y1="157.20" x2="272.80" y2="154.20" stroke="#000" stroke-width="1.3" />
<line x1="272.80" y1="35.00" x2="272.80" y2="38.00" stroke="#000" stroke-width="1.3" />
<line x1="285.00" y1="157.20" x2="285.00" y2="155.20" stroke="#000" stroke-width="1.1" />
<line x1="285.00" y1="35.00" x2="285.00" y2="37.00" stroke="#000" stroke-width="1.1" />
<line x1="297.25" y1="157.20" x2="297.25" y2="154.20" stroke="#000" stroke-width="1.3" />
<line x1="297.25" y1="35.00" x2="297.25" y2="38.00" stroke="#000" stroke-width="1.3" />
<line x1="309.45" y1="157.20" x2="309.45" y2="155.20" stroke="#000" stroke-width="1.1" />
<line x1="309.45" y1="35.00" x2="309.45" y2="37.00" stroke="#000" stroke-width="1.1" />
<line x1="321.70" y1="157.20" x2="321.70" y2="154.20" stroke="#000" stroke-width="1.3" />
<line x1="321.70" y1="35.00" x2="321.70" y2="38.00" stroke="#000" stroke-width="1.3" />
<line x1="333.90" y1="157.20" x2="333.90" y2="155.20" stroke="#000" stroke-width="1.1" />
<line x1="333.90" y1="35.00" x2="333.90" y2="37.00" stroke="#000" stroke-width="1.1" />
<line x1="346.15" y1="157.20" x2="346.15" y2="154.20" stroke="#000" stroke-width="1.3" />
<line x1="346.15" y1="35.00" x2="346.15" y2="38.00" stroke="#000" stroke-width="1.3" />
<line x1="358.35" y1="157.20" x2="358.35" y2="155.20" stroke="#000" stroke-width="1.1" />
<line x1="358.35" y1="35.00" x2="358.35" y2="37.00" stroke="#000" stroke-width="1.1" />
<line x1="370.60" y1="157.20" x2="370.60" y2="154.20" stroke="#000" stroke-width="1.3" />
<line x1="370.60" y1="35.00" x2="370.60" y2="38.00" stroke="#000" stroke-width="1.3" />
<line x1="382.80" y1="157.20" x2="382.80" y2="155.20" stroke="#000" stroke-width="1.1" />
<line x1="382.80" y1="35.00" x2="382.80" y2="37.00" stroke="#000" stroke-width="1.1" />
<line x1="260.70" y1="157.18" x2="263.70" y2="157.18" stroke="#000" stroke-width="1.3" />
<line x1="382.90" y1="157.18" x2="379.90" y2="157.18" stroke="#000" stroke-width="1.3" />
<line x1="260.70" y1="141.91" x2="263.70" y2="141.91" stroke="#000" stroke-width="1.3" />
<line x1="382.90" y1="141.91" x2="379.90" y2="141.91" stroke="#000" stroke-width="1.3" />
<line x1="260.70" y1="126.64" x2="263.70" y2="126.64" stroke="#000" stroke-width="1.3" />
<line x1="382.90" y1="126.64" x2="379.90" y2="126.64" stroke="#000" stroke-width="1.3" />
<line x1="260.70" y1="111.37" x2="263.70" y2="111.37" stroke="#000" stroke-width="1.3" />
<line x1="382.90" y1="111.37" x2="379.90" y2="111.37" stroke="#000" stroke-width="1.3" />
<line x1="260.70" y1="96.10" x2="263.70" y2="96.10" stroke="#000" stroke-width="1.3" />
<line x1="382.90" y1="96.10" x2="379.90" y2="96.10" stroke="#000" stroke-width="1.3" />
<line x1="260.70" y1="80.83" x2="263.70" y2="80.83" stroke="#000" stroke-width="1.3" />
<line x1="382.90" y1="80.83" x2="379.90" y2="80.83" stroke="#000" stroke-width="1.3" />
<line x1="260.70" y1="65.56" x2="263.70" y2="65.56" stroke="#000" stroke-width="1.3" />
<line x1="382.90" y1="65.56" x2="379.90" y2="65.56" stroke="#000" stroke-width="1.3" />
<line x1="260.70" y1="50.29" x2="263.70" y2="50.29" stroke="#000" stroke-width="1.3" />
<line x1="382.90" y1="50.29" x2="379.90" y2="50.29" stroke="#000" stroke-width="1.3" />
<line x1="260.70" y1="35.02" x2="263.70" y2="35.02" stroke="#000" stroke-width="1.3" />
<line x1="382.90" y1="35.02" x2="379.90" y2="35.02" stroke="#000" stroke-width="1.3" />
<text x="257.30" y="39.82" font-size="14.0" text-anchor="end" font-weight="normal" font-style="normal" fill="#000" font-family='"Liberation Sans", sans-serif' >4</text>
<text x="257.30" y="70.36" font-size="14.0" text-anchor="end" font-weight="normal" font-style="normal" fill="#000" font-family='"Liberation Sans", sans-serif' >2</text>
<text x="257.30" y="100.90" font-size="14.0" text-anchor="end" font-weight="normal" font-style="normal" fill="#000" font-family='"Liberation Sans", sans-serif' >0</text>
<text x="257.30" y="131.44" font-size="14.0" text-anchor="end" font-weight="normal" font-style="normal" fill="#000" font-family='"Liberation Sans", sans-serif' >-2</text>
<text x="257.30" y="161.98" font-size="14.0" text-anchor="end" font-weight="normal" font-style="normal" fill="#000" font-family='"Liberation Sans", sans-serif' >-4</text>
<text transform="translate(241.0,97.5) rotate(-90)" font-size="14.8" text-anchor="middle" font-family='"Liberation Sans", sans-serif'>Nonlinearity</text>
<text x="265.20" y="48.80" font-size="11.4" text-anchor="start" font-weight="normal" font-style="normal" fill="#000" font-family='"Liberation Sans", sans-serif' >Solid: LTP</text>
<text x="265.20" y="63.30" font-size="11.4" text-anchor="start" font-weight="normal" font-style="normal" fill="#000" font-family='"Liberation Sans", sans-serif' >Open: LTD</text>
<circle cx="272.80" cy="145.73" r="4.50" fill="#404040" stroke="none" stroke-width="1" />
<circle cx="272.80" cy="134.27" r="3.80" fill="#fff" stroke="#404040" stroke-width="1.6" />
<circle cx="297.25" cy="117.48" r="4.50" fill="#e82c2c" stroke="none" stroke-width="1" />
<circle cx="297.25" cy="126.64" r="3.80" fill="#fff" stroke="#e82c2c" stroke-width="1.6" />
<circle cx="321.70" cy="83.12" r="4.50" fill="#1a5fd9" stroke="none" stroke-width="1" />
<circle cx="321.70" cy="109.84" r="3.80" fill="#fff" stroke="#1a5fd9" stroke-width="1.6" />
<circle cx="346.15" cy="51.05" r="4.50" fill="#2aa05a" stroke="none" stroke-width="1" />
<circle cx="346.15" cy="94.57" r="3.80" fill="#fff" stroke="#2aa05a" stroke-width="1.6" />
<circle cx="370.60" cy="98.85" r="4.50" fill="#a562e0" stroke="none" stroke-width="1" />
<circle cx="370.60" cy="113.51" r="3.80" fill="#fff" stroke="#a562e0" stroke-width="1.6" />
<text transform="translate(281.10,171.3) rotate(-45)" font-size="12.8" text-anchor="end" font-family='"Liberation Sans", sans-serif'>Range1</text>
<text transform="translate(305.55,171.3) rotate(-45)" font-size="12.8" text-anchor="end" font-family='"Liberation Sans", sans-serif'>Range2</text>
<text transform="translate(330.00,171.3) rotate(-45)" font-size="12.8" text-anchor="end" font-family='"Liberation Sans", sans-serif'>Range3</text>
<text transform="translate(354.45,171.3) rotate(-45)" font-size="12.8" text-anchor="end" font-family='"Liberation Sans", sans-serif'>Range4</text>
<text transform="translate(378.90,171.3) rotate(-45)" font-size="12.8" text-anchor="end" font-family='"Liberation Sans", sans-serif'>Proposed</text>
<rect x="447.40" y="35.40" width="121.10" height="121.80" fill="none" stroke="#000" stroke-width="2" />
<line x1="459.00" y1="157.20" x2="459.00" y2="154.20" stroke="#000" stroke-width="1.3" />
<line x1="459.00" y1="35.40" x2="459.00" y2="38.40" stroke="#000" stroke-width="1.3" />
<line x1="471.20" y1="157.20" x2="471.20" y2="155.20" stroke="#000" stroke-width="1.1" />
<line x1="471.20" y1="35.40" x2="471.20" y2="37.40" stroke="#000" stroke-width="1.1" />
<line x1="483.35" y1="157.20" x2="483.35" y2="154.20" stroke="#000" stroke-width="1.3" />
<line x1="483.35" y1="35.40" x2="483.35" y2="38.40" stroke="#000" stroke-width="1.3" />
<line x1="495.55" y1="157.20" x2="495.55" y2="155.20" stroke="#000" stroke-width="1.1" />
<line x1="495.55" y1="35.40" x2="495.55" y2="37.40" stroke="#000" stroke-width="1.1" />
<line x1="507.70" y1="157.20" x2="507.70" y2="154.20" stroke="#000" stroke-width="1.3" />
<line x1="507.70" y1="35.40" x2="507.70" y2="38.40" stroke="#000" stroke-width="1.3" />
<line x1="519.90" y1="157.20" x2="519.90" y2="155.20" stroke="#000" stroke-width="1.1" />
<line x1="519.90" y1="35.40" x2="519.90" y2="37.40" stroke="#000" stroke-width="1.1" />
<line x1="532.05" y1="157.20" x2="532.05" y2="154.20" stroke="#000" stroke-width="1.3" />
<line x1="532.05" y1="35.40" x2="532.05" y2="38.40" stroke="#000" stroke-width="1.3" />
<line x1="544.25" y1="157.20" x2="544.25" y2="155.20" stroke="#000" stroke-width="1.1" />
<line x1="544.25" y1="35.40" x2="544.25" y2="37.40" stroke="#000" stroke-width="1.1" />
<line x1="556.40" y1="157.20" x2="556.40" y2="154.20" stroke="#000" stroke-width="1.3" />
<line x1="556.40" y1="35.40" x2="556.40" y2="38.40" stroke="#000" stroke-width="1.3" />
<line x1="568.60" y1="157.20" x2="568.60" y2="155.20" stroke="#000" stroke-width="1.1" />
<line x1="568.60" y1="35.40" x2="568.60" y2="37.40" stroke="#000" stroke-width="1.1" />
<line x1="447.40" y1="157.20" x2="450.40" y2="157.20" stroke="#000" stroke-width="1.3" />
<line x1="568.50" y1="157.20" x2="565.50" y2="157.20" stroke="#000" stroke-width="1.3" />
<line x1="447.40" y1="136.90" x2="450.40" y2="136.90" stroke="#000" stroke-width="1.3" />
<line x1="568.50" y1="136.90" x2="565.50" y2="136.90" stroke="#000" stroke-width="1.3" />
<line x1="447.40" y1="116.60" x2="450.40" y2="116.60" stroke="#000" stroke-width="1.3" />
<line x1="568.50" y1="116.60" x2="565.50" y2="116.60" stroke="#000" stroke-width="1.3" />
<line x1="447.40" y1="96.30" x2="450.40" y2="96.30" stroke="#000" stroke-width="1.3" />
<line x1="568.50" y1="96.30" x2="565.50" y2="96.30" stroke="#000" stroke-width="1.3" />
<line x1="447.40" y1="76.00" x2="450.40" y2="76.00" stroke="#000" stroke-width="1.3" />
<line x1="568.50" y1="76.00" x2="565.50" y2="76.00" stroke="#000" stroke-width="1.3" />
<line x1="447.40" y1="55.70" x2="450.40" y2="55.70" stroke="#000" stroke-width="1.3" />
<line x1="568.50" y1="55.70" x2="565.50" y2="55.70" stroke="#000" stroke-width="1.3" />
<line x1="447.40" y1="35.40" x2="450.40" y2="35.40" stroke="#000" stroke-width="1.3" />
<line x1="568.50" y1="35.40" x2="565.50" y2="35.40" stroke="#000" stroke-width="1.3" />
<text x="443.60" y="40.20" font-size="14.0" text-anchor="end" font-weight="normal" font-style="normal" fill="#000" font-family='"Liberation Sans", sans-serif' >0.6</text>
<text x="443.60" y="80.80" font-size="14.0" text-anchor="end" font-weight="normal" font-style="normal" fill="#000" font-family='"Liberation Sans", sans-serif' >0.4</text>
<text x="443.60" y="121.40" font-size="14.0" text-anchor="end" font-weight="normal" font-style="normal" fill="#000" font-family='"Liberation Sans", sans-serif' >0.2</text>
<text x="443.60" y="162.00" font-size="14.0" text-anchor="end" font-weight="normal" font-style="normal" fill="#000" font-family='"Liberation Sans", sans-serif' >0.0</text>
<text transform="translate(417.5,92.3) rotate(-90)" font-size="13.6" text-anchor="middle" font-family='"Liberation Sans", sans-serif'>RMS error (nS)</text>
<text x="450.90" y="49.00" font-size="11.4" text-anchor="start" font-weight="normal" font-style="normal" fill="#000" font-family='"Liberation Sans", sans-serif' >Solid: LTP</text>
<text x="450.90" y="63.30" font-size="11.4" text-anchor="start" font-weight="normal" font-style="normal" fill="#000" font-family='"Liberation Sans", sans-serif' >Open: LTD</text>
<circle cx="459.00" cy="108.48" r="4.50" fill="#404040" stroke="none" stroke-width="1" />
<circle cx="459.00" cy="145.02" r="3.80" fill="#fff" stroke="#404040" stroke-width="1.6" />
<circle cx="483.35" cy="82.09" r="4.50" fill="#e82c2c" stroke="none" stroke-width="1" />
<circle cx="483.35" cy="123.70" r="3.80" fill="#fff" stroke="#e82c2c" stroke-width="1.6" />
<circle cx="532.05" cy="136.90" r="4.50" fill="#2aa05a" stroke="none" stroke-width="1" />
<circle cx="532.05" cy="69.91" r="3.80" fill="#fff" stroke="#2aa05a" stroke-width="1.6" />
<circle cx="556.40" cy="128.78" r="4.50" fill="#a562e0" stroke="none" stroke-width="1" />
<circle cx="556.40" cy="111.52" r="3.80" fill="#fff" stroke="#a562e0" stroke-width="1.6" />
<circle cx="507.70" cy="90.41" r="4.50" fill="#1a5fd9" stroke="none" stroke-width="1" />
<circle cx="507.70" cy="90.41" r="3.80" fill="#fff" stroke="#1a5fd9" stroke-width="1.6" />
<line x1="504.50" y1="93.21" x2="507.80" y2="102.00" stroke="#555" stroke-width="0.9" />
<line x1="511.00" y1="87.91" x2="526.20" y2="102.00" stroke="#555" stroke-width="0.9" />
<rect x="507.80" y="102.00" width="18.40" height="18.60" fill="#fff" stroke="#555" stroke-width="1.0" />
<circle cx="517.20" cy="106.90" r="3.50" fill="#1a5fd9" stroke="none" stroke-width="1" />
<circle cx="517.20" cy="115.20" r="2.70" fill="#fff" stroke="#1a5fd9" stroke-width="1.4" />
<text x="505.90" y="115.40" font-size="7.6" text-anchor="end" font-weight="normal" font-style="normal" fill="#222" font-family='"Liberation Sans", sans-serif' >0.329</text>
<text transform="translate(467.30,171.3) rotate(-45)" font-size="12.8" text-anchor="end" font-family='"Liberation Sans", sans-serif'>Range1</text>
<text transform="translate(491.65,171.3) rotate(-45)" font-size="12.8" text-anchor="end" font-family='"Liberation Sans", sans-serif'>Range2</text>
<text transform="translate(516.00,171.3) rotate(-45)" font-size="12.8" text-anchor="end" font-family='"Liberation Sans", sans-serif'>Range3</text>
<text transform="translate(540.35,171.3) rotate(-45)" font-size="12.8" text-anchor="end" font-family='"Liberation Sans", sans-serif'>Range4</text>
<text transform="translate(564.70,171.3) rotate(-45)" font-size="12.8" text-anchor="end" font-family='"Liberation Sans", sans-serif'>Proposed</text>
<clipPath id="eclip"><rect x="446.9" y="253.6" width="121.60000000000002" height="123.00000000000003"/></clipPath>
<path d="M452.93,380.11 L454.13,349.23 L456.31,351.32 L459.36,361.78 L461.43,349.23 L462.96,345.05 L465.68,340.87 L468.84,351.32 L472.98,335.64 L476.14,333.55 L479.20,336.69 L482.36,330.41 L486.50,336.69 L489.66,333.55 L491.73,332.50 L495.98,339.82 L499.03,340.87 L502.20,330.41 L505.36,334.60 L507.43,320.02 L510.59,325.25 L514.73,323.16 L518.87,326.29 L522.03,329.37 L525.19,334.60 L528.25,329.37 L531.41,333.55 L534.57,323.16 L537.73,330.41 L541.87,326.29 L545.03,328.32 L548.08,324.20 L550.15,323.16 L553.32,323.16 L555.39,332.50 L558.55,336.69 L560.62,336.69 L562.69,351.32" fill="none" stroke="#3a3a3a" stroke-width="2.1" stroke-linejoin="round" clip-path="url(#eclip)"/>
<path d="M453.69,376.60 L455.33,327.40 L456.85,284.35 L456.96,284.34 L457.50,283.55 L458.05,282.21 L458.60,284.83 L459.14,286.38 L459.69,287.85 L460.23,286.72 L460.78,284.02 L461.32,281.76 L461.87,279.41 L462.41,280.74 L462.96,280.12 L463.50,280.40 L464.05,278.68 L464.59,278.75 L465.14,279.98 L465.68,277.78 L466.23,277.71 L466.77,278.28 L467.31,278.26 L467.86,279.14 L468.41,279.35 L468.95,278.14 L469.50,279.25 L470.04,279.07 L470.59,279.06 L471.13,279.62 L471.68,278.79 L472.22,278.94 L472.77,277.98 L473.31,278.57 L473.86,278.21 L474.40,278.41 L474.95,277.95 L475.49,278.29 L476.04,278.88 L476.58,277.54 L477.12,277.75 L477.67,278.29 L478.22,278.78 L478.76,279.83 L479.31,279.70 L479.85,279.27 L480.40,279.43 L480.94,277.63 L481.49,278.11 L482.03,276.84 L482.58,278.03 L483.12,277.01 L483.67,277.45 L484.21,279.48 L484.75,279.23 L485.30,277.93 L485.85,279.41 L486.39,278.84 L486.94,280.62 L487.48,281.84 L488.03,281.17 L488.57,281.38 L489.12,283.00 L489.66,282.53 L490.21,281.14 L490.75,278.92 L491.30,278.51 L491.84,279.02 L492.39,278.67 L492.93,278.90 L493.48,278.92 L494.02,277.25 L494.57,278.51 L495.11,277.61 L495.66,277.78 L496.20,278.25 L496.75,277.15 L497.29,278.50 L497.84,277.46 L498.38,278.66 L498.93,278.06 L499.47,278.57 L500.02,278.51 L500.56,277.06 L501.11,277.49 L501.65,278.62 L502.20,277.31 L502.74,278.70 L503.29,278.24 L503.83,277.19 L504.38,277.59 L504.92,278.69 L505.47,276.72 L506.01,278.33 L506.56,278.17 L507.10,277.00 L507.65,278.03 L508.19,278.18 L508.74,278.73 L509.28,278.77 L509.83,277.79 L510.37,278.60 L510.92,277.91 L511.46,278.48 L512.00,278.92 L512.55,278.44 L513.10,280.08 L513.64,280.50 L514.19,281.29 L514.73,284.18 L515.27,284.38 L515.82,280.96 L516.37,279.36 L516.91,279.97 L517.46,279.48 L518.00,277.68 L518.55,277.18 L519.09,278.70 L519.63,277.00 L520.18,277.07 L520.73,277.59 L521.27,277.91 L521.82,278.51 L522.36,278.58 L522.90,276.67 L523.45,278.30 L524.00,277.38 L524.54,278.42 L525.09,277.27 L525.63,277.84 L526.18,278.57 L526.72,278.90 L527.26,277.62 L527.81,278.92 L528.36,278.48 L528.90,277.66 L529.45,276.93 L529.99,277.34 L530.54,278.83 L531.08,278.22 L531.62,280.53 L532.17,281.70 L532.72,283.00 L533.26,284.47 L533.81,283.86 L534.35,282.18 L534.89,280.33 L535.44,279.27 L535.99,279.61 L536.53,278.50 L537.08,277.26 L537.62,276.96 L538.17,277.55 L538.71,277.38 L539.25,277.51 L539.80,278.36 L540.35,278.52 L540.89,278.50 L541.44,276.52 L541.98,276.91 L542.53,276.28 L543.07,278.25 L543.62,276.86 L544.16,277.13 L544.71,276.54 L545.25,277.36 L545.80,275.96 L546.34,278.01 L546.88,277.06 L547.43,276.71 L547.98,276.42 L548.52,276.83 L549.07,276.96 L549.61,276.83 L550.15,276.63 L550.70,277.90 L551.25,276.98 L551.79,276.31 L552.34,276.17 L552.88,276.94 L553.43,275.93 L553.97,275.57 L554.51,276.51 L555.06,276.70 L555.61,277.53 L556.15,277.41 L556.70,277.66 L557.24,279.10 L557.79,277.59 L558.33,276.52 L558.88,276.46 L559.42,276.48 L559.97,277.67 L560.51,277.39 L561.06,278.18 L561.60,278.94" fill="none" stroke="#a070e0" stroke-width="1.7" stroke-linejoin="round" clip-path="url(#eclip)"/>
<path d="M452.93,376.60 L453.47,350.63 L454.02,328.55 L454.56,322.02 L455.11,317.48 L455.65,314.28 L456.20,311.27 L456.74,309.02 L457.29,306.77 L457.83,304.95 L458.38,303.41 L458.92,301.88 L459.47,300.73 L460.01,299.68 L460.56,298.62 L461.10,297.57 L461.65,296.80 L462.19,296.04 L462.74,295.27 L463.28,294.50 L463.83,293.87 L464.37,293.24 L464.92,292.61 L465.46,291.98 L466.01,291.48 L466.55,291.07 L467.10,290.66 L467.64,290.25 L468.19,289.84 L468.73,289.43 L469.28,289.00 L469.82,288.54 L470.37,288.09 L470.91,287.63 L471.46,287.17 L472.00,286.72 L472.55,286.26 L473.09,285.81 L473.64,285.35 L474.18,284.90 L474.73,284.44 L475.27,284.16 L475.82,283.93 L476.36,283.70 L476.91,283.46 L477.45,283.23 L478.00,283.00 L478.54,282.76 L479.09,282.53 L479.63,282.29 L480.18,282.06 L480.72,281.83 L481.27,281.59 L481.81,281.36 L482.36,281.13 L482.90,280.89 L483.45,280.66 L483.99,280.48 L484.54,280.29 L485.08,280.11 L485.63,279.93 L486.17,279.74 L486.72,279.56 L487.26,279.37 L487.81,279.19 L488.35,279.01 L488.90,278.82 L489.44,278.64 L489.99,278.46 L490.53,278.27 L491.08,278.12 L491.62,277.98 L492.17,277.85 L492.71,277.71 L493.26,277.58 L493.80,277.44 L494.35,277.31 L494.89,277.17 L495.44,277.04 L495.98,276.90 L496.53,276.76 L497.07,276.63 L497.62,276.49 L498.16,276.36 L498.71,276.22 L499.25,276.09 L499.80,275.95 L500.34,275.86 L500.89,275.77 L501.43,275.69 L501.98,275.61 L502.52,275.52 L503.07,275.44 L503.61,275.35 L504.16,275.27 L504.70,275.19 L505.25,275.10 L505.79,275.02 L506.34,274.93 L506.88,274.85 L507.43,274.79 L507.97,274.75 L508.52,274.71 L509.06,274.66 L509.61,274.62 L510.15,274.58 L510.70,274.54 L511.24,274.49 L511.79,274.45 L512.33,274.41 L512.88,274.37 L513.42,274.32 L513.97,274.28 L514.51,274.24 L515.06,274.20 L515.60,274.15 L516.15,274.11 L516.69,274.07 L517.24,274.03 L517.78,273.98 L518.33,273.94 L518.87,273.90 L519.42,273.86 L519.96,273.81 L520.51,273.77 L521.05,273.73 L521.60,273.71 L522.14,273.71 L522.69,273.70 L523.23,273.70 L523.78,273.70 L524.32,273.69 L524.87,273.69 L525.41,273.69 L525.96,273.68 L526.50,273.68 L527.05,273.68 L527.59,273.67 L528.14,273.67 L528.68,273.67 L529.23,273.67 L529.77,273.66 L530.32,273.66 L530.86,273.66 L531.41,273.65 L531.95,273.65 L532.50,273.65 L533.04,273.64 L533.59,273.64 L534.13,273.64 L534.68,273.63 L535.22,273.63 L535.77,273.63 L536.31,273.63 L536.86,273.62 L537.40,273.62 L537.95,273.62 L538.49,273.61 L539.04,273.61 L539.58,273.61 L540.13,273.60 L540.67,273.60 L541.22,273.60 L541.76,273.59 L542.31,273.59 L542.85,273.59 L543.40,273.53 L543.94,273.44 L544.49,273.35 L545.03,273.26 L545.58,273.16 L546.12,273.07 L546.67,272.98 L547.21,272.89 L547.76,272.79 L548.30,272.70 L548.85,272.60 L549.39,272.50 L549.94,272.39 L550.48,272.29 L551.03,272.18 L551.57,272.08 L552.12,271.97 L552.66,271.87 L553.21,271.77 L553.75,271.66 L554.30,271.57 L554.84,271.49 L555.39,271.41 L555.93,271.33 L556.48,271.26 L557.02,271.18 L557.57,271.10 L558.11,271.02 L558.66,270.94 L559.20,270.86 L559.75,270.78 L560.29,270.70 L560.84,270.62 L561.38,270.54" fill="none" stroke="#000" stroke-width="1.5" stroke-dasharray="1.3 1.2" clip-path="url(#eclip)"/>
<rect x="446.90" y="253.60" width="121.60" height="123.00" fill="none" stroke="#000" stroke-width="2" />
<line x1="452.60" y1="376.60" x2="452.60" y2="373.60" stroke="#000" stroke-width="1.3" />
<line x1="452.60" y1="253.60" x2="452.60" y2="256.60" stroke="#000" stroke-width="1.3" />
<line x1="463.50" y1="376.60" x2="463.50" y2="374.60" stroke="#000" stroke-width="1.3" />
<line x1="463.50" y1="253.60" x2="463.50" y2="255.60" stroke="#000" stroke-width="1.3" />
<line x1="474.40" y1="376.60" x2="474.40" y2="373.60" stroke="#000" stroke-width="1.3" />
<line x1="474.40" y1="253.60" x2="474.40" y2="256.60" stroke="#000" stroke-width="1.3" />
<line x1="485.30" y1="376.60" x2="485.30" y2="374.60" stroke="#000" stroke-width="1.3" />
<line x1="485.30" y1="253.60" x2="485.30" y2="255.60" stroke="#000" stroke-width="1.3" />
<line x1="496.20" y1="376.60" x2="496.20" y2="373.60" stroke="#000" stroke-width="1.3" />
<line x1="496.20" y1="253.60" x2="496.20" y2="256.60" stroke="#000" stroke-width="1.3" />
<line x1="507.10" y1="376.60" x2="507.10" y2="374.60" stroke="#000" stroke-width="1.3" />
<line x1="507.10" y1="253.60" x2="507.10" y2="255.60" stroke="#000" stroke-width="1.3" />
<line x1="518.00" y1="376.60" x2="518.00" y2="373.60" stroke="#000" stroke-width="1.3" />
<line x1="518.00" y1="253.60" x2="518.00" y2="256.60" stroke="#000" stroke-width="1.3" />
<line x1="528.90" y1="376.60" x2="528.90" y2="374.60" stroke="#000" stroke-width="1.3" />
<line x1="528.90" y1="253.60" x2="528.90" y2="255.60" stroke="#000" stroke-width="1.3" />
<line x1="539.80" y1="376.60" x2="539.80" y2="373.60" stroke="#000" stroke-width="1.3" />
<line x1="539.80" y1="253.60" x2="539.80" y2="256.60" stroke="#000" stroke-width="1.3" />
<line x1="550.70" y1="376.60" x2="550.70" y2="374.60" stroke="#000" stroke-width="1.3" />
<line x1="550.70" y1="253.60" x2="550.70" y2="255.60" stroke="#000" stroke-width="1.3" />
<line x1="561.60" y1="376.60" x2="561.60" y2="373.60" stroke="#000" stroke-width="1.3" />
<line x1="561.60" y1="253.60" x2="561.60" y2="256.60" stroke="#000" stroke-width="1.3" />
<line x1="446.90" y1="376.60" x2="449.90" y2="376.60" stroke="#000" stroke-width="1.3" />
<line x1="568.50" y1="376.60" x2="565.50" y2="376.60" stroke="#000" stroke-width="1.3" />
<line x1="446.90" y1="361.23" x2="448.90" y2="361.23" stroke="#000" stroke-width="1.3" />
<line x1="568.50" y1="361.23" x2="566.50" y2="361.23" stroke="#000" stroke-width="1.3" />
<line x1="446.90" y1="345.85" x2="449.90" y2="345.85" stroke="#000" stroke-width="1.3" />
<line x1="568.50" y1="345.85" x2="565.50" y2="345.85" stroke="#000" stroke-width="1.3" />
<line x1="446.90" y1="330.48" x2="448.90" y2="330.48" stroke="#000" stroke-width="1.3" />
<line x1="568.50" y1="330.48" x2="566.50" y2="330.48" stroke="#000" stroke-width="1.3" />
<line x1="446.90" y1="315.10" x2="449.90" y2="315.10" stroke="#000" stroke-width="1.3" />
<line x1="568.50" y1="315.10" x2="565.50" y2="315.10" stroke="#000" stroke-width="1.3" />
<line x1="446.90" y1="299.73" x2="448.90" y2="299.73" stroke="#000" stroke-width="1.3" />
<line x1="568.50" y1="299.73" x2="566.50" y2="299.73" stroke="#000" stroke-width="1.3" />
<line x1="446.90" y1="284.35" x2="449.90" y2="284.35" stroke="#000" stroke-width="1.3" />
<line x1="568.50" y1="284.35" x2="565.50" y2="284.35" stroke="#000" stroke-width="1.3" />
<line x1="446.90" y1="268.98" x2="448.90" y2="268.98" stroke="#000" stroke-width="1.3" />
<line x1="568.50" y1="268.98" x2="566.50" y2="268.98" stroke="#000" stroke-width="1.3" />
<line x1="446.90" y1="253.60" x2="449.90" y2="253.60" stroke="#000" stroke-width="1.3" />
<line x1="568.50" y1="253.60" x2="565.50" y2="253.60" stroke="#000" stroke-width="1.3" />
<text x="442.60" y="258.40" font-size="14.0" text-anchor="end" font-weight="normal" font-style="normal" fill="#000" font-family='"Liberation Sans", sans-serif' >100</text>
<text x="442.60" y="289.15" font-size="14.0" text-anchor="end" font-weight="normal" font-style="normal" fill="#000" font-family='"Liberation Sans", sans-serif' >95</text>
<text x="442.60" y="319.90" font-size="14.0" text-anchor="end" font-weight="normal" font-style="normal" fill="#000" font-family='"Liberation Sans", sans-serif' >90</text>
<text x="442.60" y="350.65" font-size="14.0" text-anchor="end" font-weight="normal" font-style="normal" fill="#000" font-family='"Liberation Sans", sans-serif' >85</text>
<text x="442.60" y="381.40" font-size="14.0" text-anchor="end" font-weight="normal" font-style="normal" fill="#000" font-family='"Liberation Sans", sans-serif' >80</text>
<text x="452.60" y="391.20" font-size="14.0" text-anchor="middle" font-weight="normal" font-style="normal" fill="#000" font-family='"Liberation Sans", sans-serif' >0</text>
<text x="474.40" y="391.20" font-size="14.0" text-anchor="middle" font-weight="normal" font-style="normal" fill="#000" font-family='"Liberation Sans", sans-serif' >20</text>
<text x="496.20" y="391.20" font-size="14.0" text-anchor="middle" font-weight="normal" font-style="normal" fill="#000" font-family='"Liberation Sans", sans-serif' >40</text>
<text x="518.00" y="391.20" font-size="14.0" text-anchor="middle" font-weight="normal" font-style="normal" fill="#000" font-family='"Liberation Sans", sans-serif' >60</text>
<text x="539.80" y="391.20" font-size="14.0" text-anchor="middle" font-weight="normal" font-style="normal" fill="#000" font-family='"Liberation Sans", sans-serif' >80</text>
<text x="561.60" y="391.20" font-size="14.0" text-anchor="middle" font-weight="normal" font-style="normal" fill="#000" font-family='"Liberation Sans", sans-serif' >100</text>
<text x="507.90" y="413.20" font-size="14.9" text-anchor="middle" font-weight="normal" font-style="normal" fill="#000" font-family='"Liberation Sans", sans-serif' >Epoch</text>
<text transform="translate(417.5,315) rotate(-90)" font-size="14.9" text-anchor="middle" font-family='"Liberation Sans", sans-serif'>Accuracy (%)</text>
<line x1="514.50" y1="348.00" x2="520.50" y2="348.00" stroke="#333" stroke-width="1.3" />
<text x="531.00" y="350.60" font-size="9.2" text-anchor="start" font-weight="normal" font-style="normal" fill="#222" font-family='"Liberation Sans", sans-serif' >Float 32</text>
<line x1="514.50" y1="359.30" x2="520.50" y2="359.30" stroke="#3a3a3a" stroke-width="1.2" />
<text x="531.00" y="361.90" font-size="9.2" text-anchor="start" font-weight="normal" font-style="normal" fill="#222" font-family='"Liberation Sans", sans-serif' >Range1</text>
<line x1="514.50" y1="370.30" x2="520.50" y2="370.30" stroke="#a070e0" stroke-width="1.2" />
<text x="531.00" y="372.90" font-size="9.2" text-anchor="start" font-weight="normal" font-style="normal" fill="#222" font-family='"Liberation Sans", sans-serif' >Proposed</text>
<path d="M70.45,272.01 L75.40,269.19 L75.40,274.19 L70.45,277.01Z" fill="#6e6e6e"/>
<path d="M75.40,269.19 L80.35,266.36 L80.35,271.36 L75.40,274.19Z" fill="#6e6e6e"/>
<path d="M80.35,266.36 L85.30,263.54 L85.30,268.54 L80.35,271.36Z" fill="#6e6e6e"/>
<path d="M70.45,277.01 L75.40,274.19 L75.40,279.19 L70.45,282.01Z" fill="#6e6e6e"/>
<path d="M75.40,274.19 L80.35,271.36 L80.35,276.36 L75.40,279.19Z" fill="#6e6e6e"/>
<path d="M70.45,282.01 L75.40,279.19 L75.40,284.19 L70.45,287.01Z" fill="#6e6e6e"/>
<path d="M75.40,279.19 L80.35,276.36 L80.35,281.36 L75.40,284.19Z" fill="#6e6e6e"/>
<path d="M65.50,289.84 L70.45,287.01 L70.45,292.01 L65.50,294.84Z" fill="#6e6e6e"/>
<path d="M70.45,287.01 L75.40,284.19 L75.40,289.19 L70.45,292.01Z" fill="#6e6e6e"/>
<path d="M65.50,294.84 L70.45,292.01 L70.45,297.01 L65.50,299.84Z" fill="#6e6e6e"/>
<path d="M55.60,305.49 L60.55,302.67 L60.55,307.67 L55.60,310.49Z" fill="#6e6e6e"/>
<path d="M60.55,302.67 L65.50,299.84 L65.50,304.84 L60.55,307.67Z" fill="#6e6e6e"/>
<path d="M65.50,299.84 L70.45,297.01 L70.45,302.01 L65.50,304.84Z" fill="#6e6e6e"/>
<path d="M55.60,310.49 L60.55,307.67 L60.55,312.67 L55.60,315.49Z" fill="#6e6e6e"/>
<path d="M60.55,307.67 L65.50,304.84 L65.50,309.84 L60.55,312.67Z" fill="#6e6e6e"/>
<path d="M65.50,304.84 L70.45,302.01 L70.45,307.01 L65.50,309.84Z" fill="#6e6e6e"/>
<path d="M70.45,302.01 L75.40,299.19 L75.40,304.19 L70.45,307.01Z" fill="#6e6e6e"/>
<path d="M75.40,299.19 L80.35,296.36 L80.35,301.36 L75.40,304.19Z" fill="#6e6e6e"/>
<path d="M80.35,296.36 L85.30,293.54 L85.30,298.54 L80.35,301.36Z" fill="#6e6e6e"/>
<path d="M50.65,318.32 L55.60,315.49 L55.60,320.49 L50.65,323.32Z" fill="#6e6e6e"/>
<path d="M55.60,315.49 L60.55,312.67 L60.55,317.67 L55.60,320.49Z" fill="#6e6e6e"/>
<path d="M60.55,312.67 L65.50,309.84 L65.50,314.84 L60.55,317.67Z" fill="#6e6e6e"/>
<path d="M65.50,309.84 L70.45,307.01 L70.45,312.01 L65.50,314.84Z" fill="#6e6e6e"/>
<path d="M70.45,307.01 L75.40,304.19 L75.40,309.19 L70.45,312.01Z" fill="#6e6e6e"/>
<path d="M75.40,304.19 L80.35,301.36 L80.35,306.36 L75.40,309.19Z" fill="#6e6e6e"/>
<path d="M80.35,301.36 L85.30,298.54 L85.30,303.54 L80.35,306.36Z" fill="#6e6e6e"/>
<path d="M85.30,298.54 L90.25,295.71 L90.25,300.71 L85.30,303.54Z" fill="#6e6e6e"/>
<path d="M50.65,323.32 L55.60,320.49 L55.60,325.49 L50.65,328.32Z" fill="#6e6e6e"/>
<path d="M55.60,320.49 L60.55,317.67 L60.55,322.67 L55.60,325.49Z" fill="#6e6e6e"/>
<path d="M60.55,317.67 L65.50,314.84 L65.50,319.84 L60.55,322.67Z" fill="#6e6e6e"/>
<path d="M80.35,306.36 L85.30,303.54 L85.30,308.54 L80.35,311.36Z" fill="#6e6e6e"/>
<path d="M85.30,303.54 L90.25,300.71 L90.25,305.71 L85.30,308.54Z" fill="#6e6e6e"/>
<path d="M50.65,328.32 L55.60,325.49 L55.60,330.49 L50.65,333.32Z" fill="#6e6e6e"/>
<path d="M55.60,325.49 L60.55,322.67 L60.55,327.67 L55.60,330.49Z" fill="#6e6e6e"/>
<path d="M60.55,322.67 L65.50,319.84 L65.50,324.84 L60.55,327.67Z" fill="#6e6e6e"/>
<path d="M80.35,311.36 L85.30,308.54 L85.30,313.54 L80.35,316.36Z" fill="#6e6e6e"/>
<path d="M85.30,308.54 L90.25,305.71 L90.25,310.71 L85.30,313.54Z" fill="#6e6e6e"/>
<path d="M50.65,333.32 L55.60,330.49 L55.60,335.49 L50.65,338.32Z" fill="#6e6e6e"/>
<path d="M55.60,330.49 L60.55,327.67 L60.55,332.67 L55.60,335.49Z" fill="#6e6e6e"/>
<path d="M60.55,327.67 L65.50,324.84 L65.50,329.84 L60.55,332.67Z" fill="#6e6e6e"/>
<path d="M65.50,324.84 L70.45,322.01 L70.45,327.01 L65.50,329.84Z" fill="#6e6e6e"/>
<path d="M70.45,322.01 L75.40,319.19 L75.40,324.19 L70.45,327.01Z" fill="#6e6e6e"/>
<path d="M75.40,319.19 L80.35,316.36 L80.35,321.36 L75.40,324.19Z" fill="#6e6e6e"/>
<path d="M80.35,316.36 L85.30,313.54 L85.30,318.54 L80.35,321.36Z" fill="#6e6e6e"/>
<path d="M55.60,335.49 L60.55,332.67 L60.55,337.67 L55.60,340.49Z" fill="#6e6e6e"/>
<path d="M60.55,332.67 L65.50,329.84 L65.50,334.84 L60.55,337.67Z" fill="#6e6e6e"/>
<path d="M65.50,329.84 L70.45,327.01 L70.45,332.01 L65.50,334.84Z" fill="#6e6e6e"/>
<path d="M70.45,327.01 L75.40,324.19 L75.40,329.19 L70.45,332.01Z" fill="#6e6e6e"/>
<path d="M35.80,286.80V366.80M40.75,283.97V363.97M45.70,281.15V361.15M50.65,278.32V358.32M55.60,275.49V355.49M60.55,272.67V352.67M65.50,269.84V349.84M70.45,267.01V347.01M75.40,264.19V344.19M80.35,261.36V341.36M85.30,258.54V338.54M90.25,255.71V335.71M95.20,252.88V332.88M100.15,250.06V330.06M105.10,247.23V327.23M35.80,286.80L105.10,247.23M35.80,291.80L105.10,252.23M35.80,296.80L105.10,257.23M35.80,301.80L105.10,262.23M35.80,306.80L105.10,267.23M35.80,311.80L105.10,272.23M35.80,316.80L105.10,277.23M35.80,321.80L105.10,282.23M35.80,326.80L105.10,287.23M35.80,331.80L105.10,292.23M35.80,336.80L105.10,297.23M35.80,341.80L105.10,302.23M35.80,346.80L105.10,307.23M35.80,351.80L105.10,312.23M35.80,356.80L105.10,317.23M35.80,361.80L105.10,322.23M35.80,366.80L105.10,327.23" fill="none" stroke="#2a2a2a" stroke-width="0.5" />
<path d="M40.75,290.97 L55.60,282.49 L55.60,298.49 L40.75,306.97Z" fill="none" stroke="#e8202a" stroke-width="1.3" />
<path d="M65.50,271.04 L80.35,262.56 L80.35,278.56 L65.50,287.04Z" fill="none" stroke="#22b04a" stroke-width="1.3" />
<path d="M35.80,315.30 L50.65,306.82 L50.65,321.82 L35.80,330.30Z" fill="none" stroke="#2a7ad0" stroke-width="1.3" />
<path d="M40.75,340.97 L55.60,332.49 L55.60,348.49 L40.75,356.97Z" fill="none" stroke="#7a3ab8" stroke-width="1.3" />
<path d="M106.70,265.10V282.20M112.15,261.99V279.09M117.60,258.88V275.98M123.05,255.76V272.86M106.70,265.10L123.05,255.76M106.70,270.80L123.05,261.46M106.70,276.50L123.05,267.16M106.70,282.20L123.05,272.86" fill="none" stroke="#e8202a" stroke-width="1.1" />
<path d="M107.00,290.30V307.40M112.45,287.19V304.29M117.90,284.08V301.18M123.35,280.96V298.06M107.00,290.30L123.35,280.96M107.00,296.00L123.35,286.66M107.00,301.70L123.35,292.36M107.00,307.40L123.35,298.06" fill="none" stroke="#2a7ad0" stroke-width="1.1" />
<path d="M107.00,315.50V332.60M112.45,312.39V329.49M117.90,309.28V326.38M123.35,306.16V323.26M107.00,315.50L123.35,306.16M107.00,321.20L123.35,311.86M107.00,326.90L123.35,317.56M107.00,332.60L123.35,323.26" fill="none" stroke="#22b04a" stroke-width="1.1" />
<path d="M107.00,340.60V357.70M112.45,337.49V354.59M117.90,334.38V351.48M123.35,331.26V348.36M107.00,340.60L123.35,331.26M107.00,346.30L123.35,336.96M107.00,352.00L123.35,342.66M107.00,357.70L123.35,348.36" fill="none" stroke="#7a3ab8" stroke-width="1.1" />
<line x1="40.75" y1="290.97" x2="106.70" y2="265.10" stroke="#e8202a" stroke-width="1.3" stroke-dasharray="2.6 1.8"/>
<line x1="55.60" y1="282.49" x2="123.05" y2="255.76" stroke="#e8202a" stroke-width="1.3" stroke-dasharray="2.6 1.8"/>
<line x1="55.60" y1="298.49" x2="123.05" y2="272.86" stroke="#e8202a" stroke-width="1.3" stroke-dasharray="2.6 1.8"/>
<line x1="40.75" y1="306.97" x2="106.70" y2="282.20" stroke="#e8202a" stroke-width="1.3" stroke-dasharray="2.6 1.8"/>
<path d="M127.00,288.66 L187.00,254.40 L187.00,322.00 L127.00,356.26Z" fill="#fff" stroke="none" stroke-width="0" />
<path d="M127.00,288.66V356.26M132.00,285.81V353.41M137.00,282.95V350.55M142.00,280.10V347.70M147.00,277.24V344.84M152.00,274.39V341.99M157.00,271.53V339.13M162.00,268.68V336.28M167.00,265.82V333.42M172.00,262.97V330.57M177.00,260.11V327.71M182.00,257.26V324.86M187.00,254.40V322.00M127.00,288.66L187.00,254.40M127.00,293.86L187.00,259.60M127.00,299.06L187.00,264.80M127.00,304.26L187.00,270.00M127.00,309.46L187.00,275.20M127.00,314.66L187.00,280.40M127.00,319.86L187.00,285.60M127.00,325.06L187.00,290.80M127.00,330.26L187.00,296.00M127.00,335.46L187.00,301.20M127.00,340.66L187.00,306.40M127.00,345.86L187.00,311.60M127.00,351.06L187.00,316.80M127.00,356.26L187.00,322.00" fill="none" stroke="#a680d4" stroke-width="0.85" />
<path d="M132.00,343.00 L137.00,340.15 L137.00,346.13 L132.00,348.99Z" fill="#6a2ab8"/>
<path d="M138.00,288.66 L198.00,254.40 L198.00,322.00 L138.00,356.26Z" fill="#fff" stroke="none" stroke-width="0" />
<path d="M138.00,288.66V356.26M143.00,285.81V353.41M148.00,282.95V350.55M153.00,280.10V347.70M158.00,277.24V344.84M163.00,274.39V341.99M168.00,271.53V339.13M173.00,268.68V336.28M178.00,265.82V333.42M183.00,262.97V330.57M188.00,260.11V327.71M193.00,257.26V324.86M198.00,254.40V322.00M138.00,288.66L198.00,254.40M138.00,293.86L198.00,259.60M138.00,299.06L198.00,264.80M138.00,304.26L198.00,270.00M138.00,309.46L198.00,275.20M138.00,314.66L198.00,280.40M138.00,319.86L198.00,285.60M138.00,325.06L198.00,290.80M138.00,330.26L198.00,296.00M138.00,335.46L198.00,301.20M138.00,340.66L198.00,306.40M138.00,345.86L198.00,311.60M138.00,351.06L198.00,316.80M138.00,356.26L198.00,322.00" fill="none" stroke="#76c99a" stroke-width="0.85" />
<path d="M168.00,272.31 L173.00,269.45 L173.00,275.44 L168.00,278.29Z" fill="#20b050"/>
<path d="M149.10,288.66 L209.10,254.40 L209.10,322.00 L149.10,356.26Z" fill="#fff" stroke="none" stroke-width="0" />
<path d="M149.10,288.66V356.26M154.10,285.81V353.41M159.10,282.95V350.55M164.10,280.10V347.70M169.10,277.24V344.84M174.10,274.39V341.99M179.10,271.53V339.13M184.10,268.68V336.28M189.10,265.82V333.42M194.10,262.97V330.57M199.10,260.11V327.71M204.10,257.26V324.86M209.10,254.40V322.00M149.10,288.66L209.10,254.40M149.10,293.86L209.10,259.60M149.10,299.06L209.10,264.80M149.10,304.26L209.10,270.00M149.10,309.46L209.10,275.20M149.10,314.66L209.10,280.40M149.10,319.86L209.10,285.60M149.10,325.06L209.10,290.80M149.10,330.26L209.10,296.00M149.10,335.46L209.10,301.20M149.10,340.66L209.10,306.40M149.10,345.86L209.10,311.60M149.10,351.06L209.10,316.80M149.10,356.26L209.10,322.00" fill="none" stroke="#6fb0dc" stroke-width="0.85" />
<path d="M149.10,317.26 L154.10,314.41 L154.10,320.39 L149.10,323.24Z" fill="#1a6ad0"/>
<path d="M160.50,288.66 L220.50,254.40 L220.50,322.00 L160.50,356.26Z" fill="#fff" stroke="none" stroke-width="0" />
<path d="M160.50,288.66V356.26M165.50,285.81V353.41M170.50,282.95V350.55M175.50,280.10V347.70M180.50,277.24V344.84M185.50,274.39V341.99M190.50,271.53V339.13M195.50,268.68V336.28M200.50,265.82V333.42M205.50,262.97V330.57M210.50,260.11V327.71M215.50,257.26V324.86M220.50,254.40V322.00M160.50,288.66L220.50,254.40M160.50,293.86L220.50,259.60M160.50,299.06L220.50,264.80M160.50,304.26L220.50,270.00M160.50,309.46L220.50,275.20M160.50,314.66L220.50,280.40M160.50,319.86L220.50,285.60M160.50,325.06L220.50,290.80M160.50,330.26L220.50,296.00M160.50,335.46L220.50,301.20M160.50,340.66L220.50,306.40M160.50,345.86L220.50,311.60M160.50,351.06L220.50,316.80M160.50,356.26L220.50,322.00" fill="none" stroke="#e06464" stroke-width="0.85" />
<path d="M163.00,289.83 L170.50,285.55 L170.50,293.35 L163.00,297.63Z" fill="#ee1010" stroke="none" stroke-width="0" />
<line x1="106.70" y1="265.10" x2="163.00" y2="289.83" stroke="#e8202a" stroke-width="1.4" stroke-dasharray="2.6 1.8"/>
<line x1="123.05" y1="255.76" x2="170.50" y2="285.55" stroke="#e8202a" stroke-width="1.4" stroke-dasharray="2.6 1.8"/>
<line x1="123.05" y1="272.86" x2="170.50" y2="293.35" stroke="#e8202a" stroke-width="1.4" stroke-dasharray="2.6 1.8"/>
<line x1="106.70" y1="282.20" x2="163.00" y2="297.63" stroke="#e8202a" stroke-width="1.4" stroke-dasharray="2.6 1.8"/>
<path d="M228.40,298.53 L258.40,281.40 L258.40,315.70 L228.40,332.83Z" fill="#fff" stroke="none" stroke-width="0" />
<path d="M228.40,298.53V332.83M233.40,295.67V329.97M238.40,292.82V327.12M243.40,289.96V324.26M248.40,287.11V321.41M253.40,284.25V318.56M258.40,281.40V315.70M228.40,298.53L258.40,281.40M228.40,303.43L258.40,286.30M228.40,308.33L258.40,291.20M228.40,313.23L258.40,296.10M228.40,318.13L258.40,301.00M228.40,323.03L258.40,305.90M228.40,327.93L258.40,310.80M228.40,332.83L258.40,315.70" fill="none" stroke="#a680d4" stroke-width="0.85" />
<path d="M235.30,298.53 L265.30,281.40 L265.30,315.70 L235.30,332.83Z" fill="#fff" stroke="none" stroke-width="0" />
<path d="M235.30,298.53V332.83M240.30,295.67V329.97M245.30,292.82V327.12M250.30,289.96V324.26M255.30,287.11V321.41M260.30,284.25V318.56M265.30,281.40V315.70M235.30,298.53L265.30,281.40M235.30,303.43L265.30,286.30M235.30,308.33L265.30,291.20M235.30,313.23L265.30,296.10M235.30,318.13L265.30,301.00M235.30,323.03L265.30,305.90M235.30,327.93L265.30,310.80M235.30,332.83L265.30,315.70" fill="none" stroke="#76c99a" stroke-width="0.85" />
<path d="M242.20,298.53 L272.20,281.40 L272.20,315.70 L242.20,332.83Z" fill="#fff" stroke="none" stroke-width="0" />
<path d="M242.20,298.53V332.83M247.20,295.67V329.97M252.20,292.82V327.12M257.20,289.96V324.26M262.20,287.11V321.41M267.20,284.25V318.56M272.20,281.40V315.70M242.20,298.53L272.20,281.40M242.20,303.43L272.20,286.30M242.20,308.33L272.20,291.20M242.20,313.23L272.20,296.10M242.20,318.13L272.20,301.00M242.20,323.03L272.20,305.90M242.20,327.93L272.20,310.80M242.20,332.83L272.20,315.70" fill="none" stroke="#6fb0dc" stroke-width="0.85" />
<path d="M249.20,298.53 L279.20,281.40 L279.20,315.70 L249.20,332.83Z" fill="#fff" stroke="none" stroke-width="0" />
<path d="M249.20,298.53V332.83M254.20,295.67V329.97M259.20,292.82V327.12M264.20,289.96V324.26M269.20,287.11V321.41M274.20,284.25V318.56M279.20,281.40V315.70M249.20,298.53L279.20,281.40M249.20,303.43L279.20,286.30M249.20,308.33L279.20,291.20M249.20,313.23L279.20,296.10M249.20,318.13L279.20,301.00M249.20,323.03L279.20,305.90M249.20,327.93L279.20,310.80M249.20,332.83L279.20,315.70" fill="none" stroke="#e06464" stroke-width="0.85" />
<rect x="297.50" y="223.20" width="8.00" height="6.92" fill="none" stroke="#d9606c" stroke-width="1.1" />
<rect x="297.50" y="230.12" width="8.00" height="6.92" fill="none" stroke="#d9606c" stroke-width="1.1" />
<rect x="297.50" y="237.04" width="8.00" height="6.92" fill="none" stroke="#d9606c" stroke-width="1.1" />
<rect x="297.50" y="243.96" width="8.00" height="6.92" fill="none" stroke="#d9606c" stroke-width="1.1" />
<rect x="297.50" y="250.88" width="8.00" height="6.92" fill="none" stroke="#d9606c" stroke-width="1.1" />
<rect x="297.50" y="257.80" width="8.00" height="6.92" fill="none" stroke="#d9606c" stroke-width="1.1" />
<rect x="297.50" y="264.72" width="8.00" height="6.92" fill="none" stroke="#64a6d6" stroke-width="1.1" />
<rect x="297.50" y="271.64" width="8.00" height="6.92" fill="none" stroke="#64a6d6" stroke-width="1.1" />
<rect x="297.50" y="278.56" width="8.00" height="6.92" fill="none" stroke="#64a6d6" stroke-width="1.1" />
<rect x="297.50" y="285.48" width="8.00" height="6.92" fill="none" stroke="#64a6d6" stroke-width="1.1" />
<rect x="297.50" y="292.40" width="8.00" height="6.92" fill="none" stroke="#64a6d6" stroke-width="1.1" />
<rect x="297.50" y="299.32" width="8.00" height="6.92" fill="none" stroke="#64a6d6" stroke-width="1.1" />
<rect x="297.50" y="306.24" width="8.00" height="6.92" fill="none" stroke="#6cc496" stroke-width="1.1" />
<rect x="297.50" y="313.16" width="8.00" height="6.92" fill="none" stroke="#6cc496" stroke-width="1.1" />
<rect x="297.50" y="320.08" width="8.00" height="6.92" fill="none" stroke="#6cc496" stroke-width="1.1" />
<rect x="297.50" y="327.00" width="8.00" height="6.92" fill="none" stroke="#6cc496" stroke-width="1.1" />
<rect x="297.50" y="333.92" width="8.00" height="6.92" fill="none" stroke="#6cc496" stroke-width="1.1" />
<rect x="297.50" y="340.84" width="8.00" height="6.92" fill="none" stroke="#6cc496" stroke-width="1.1" />
<rect x="297.50" y="347.76" width="8.00" height="6.92" fill="none" stroke="#a07cd0" stroke-width="1.1" />
<rect x="297.50" y="354.68" width="8.00" height="6.92" fill="none" stroke="#a07cd0" stroke-width="1.1" />
<rect x="297.50" y="361.60" width="8.00" height="6.92" fill="none" stroke="#a07cd0" stroke-width="1.1" />
<rect x="297.50" y="368.52" width="8.00" height="6.92" fill="none" stroke="#a07cd0" stroke-width="1.1" />
<rect x="297.50" y="375.44" width="8.00" height="6.92" fill="none" stroke="#a07cd0" stroke-width="1.1" />
<rect x="297.50" y="382.36" width="8.00" height="6.92" fill="none" stroke="#a07cd0" stroke-width="1.1" />
<circle cx="335.80" cy="253.20" r="3.70" fill="none" stroke="#444" stroke-width="1.1" />
<circle cx="335.80" cy="261.36" r="3.70" fill="none" stroke="#444" stroke-width="1.1" />
<circle cx="335.80" cy="269.52" r="3.70" fill="none" stroke="#444" stroke-width="1.1" />
<circle cx="335.80" cy="277.68" r="3.70" fill="none" stroke="#444" stroke-width="1.1" />
<circle cx="335.80" cy="285.84" r="3.70" fill="none" stroke="#444" stroke-width="1.1" />
<circle cx="335.80" cy="294.00" r="3.70" fill="none" stroke="#444" stroke-width="1.1" />
<circle cx="335.80" cy="302.16" r="3.70" fill="none" stroke="#444" stroke-width="1.1" />
<circle cx="335.80" cy="310.32" r="3.70" fill="none" stroke="#444" stroke-width="1.1" />
<circle cx="335.80" cy="318.48" r="3.70" fill="none" stroke="#444" stroke-width="1.1" />
<circle cx="335.80" cy="326.64" r="3.70" fill="none" stroke="#444" stroke-width="1.1" />
<circle cx="335.80" cy="334.80" r="3.70" fill="none" stroke="#444" stroke-width="1.1" />
<circle cx="335.80" cy="342.96" r="3.70" fill="none" stroke="#444" stroke-width="1.1" />
<circle cx="335.80" cy="351.12" r="3.70" fill="none" stroke="#444" stroke-width="1.1" />
<circle cx="335.80" cy="359.28" r="3.70" fill="none" stroke="#444" stroke-width="1.1" />
<circle cx="368.40" cy="270.00" r="3.70" fill="none" stroke="#444" stroke-width="1.1" />
<circle cx="368.40" cy="278.10" r="3.70" fill="none" stroke="#444" stroke-width="1.1" />
<circle cx="368.40" cy="286.20" r="3.70" fill="none" stroke="#444" stroke-width="1.1" />
<circle cx="368.40" cy="294.30" r="3.70" fill="none" stroke="#444" stroke-width="1.1" />
<circle cx="368.40" cy="302.40" r="3.70" fill="none" stroke="#444" stroke-width="1.1" />
<circle cx="368.40" cy="310.50" r="3.70" fill="none" stroke="#444" stroke-width="1.1" />
<circle cx="368.40" cy="318.60" r="3.70" fill="none" stroke="#444" stroke-width="1.1" />
<circle cx="368.40" cy="326.70" r="3.70" fill="none" stroke="#444" stroke-width="1.1" />
<circle cx="368.40" cy="334.80" r="3.70" fill="none" stroke="#444" stroke-width="1.1" />
<circle cx="368.40" cy="342.90" r="3.70" fill="none" stroke="#444" stroke-width="1.1" />
<text x="122.70" y="376.00" font-size="12.2" text-anchor="middle" font-weight="bold" font-style="normal" fill="#000" font-family='"Liberation Sans", sans-serif' >Conv. by</text>
<text x="122.60" y="391.60" font-size="12.2" text-anchor="middle" font-weight="bold" font-style="normal" fill="#000" font-family='"Liberation Sans", sans-serif' >(3x3x4) filter</text>
<text x="122.50" y="405.80" font-size="12.2" text-anchor="middle" font-weight="bold" font-style="normal" fill="#000" font-family='"Liberation Sans", sans-serif' >+ReLU</text>
<text x="70.80" y="410.80" font-size="12.2" text-anchor="middle" font-weight="bold" font-style="normal" fill="#000" font-family='"Liberation Sans", sans-serif' >(28x28x1)</text>
<text x="213.80" y="382.40" font-size="12.2" text-anchor="middle" font-weight="bold" font-style="normal" fill="#000" font-family='"Liberation Sans", sans-serif' >Max pooling</text>
<text x="213.80" y="398.20" font-size="12.2" text-anchor="middle" font-weight="bold" font-style="normal" fill="#000" font-family='"Liberation Sans", sans-serif' >(2x2)</text>
<text x="174.00" y="410.80" font-size="12.2" text-anchor="middle" font-weight="bold" font-style="normal" fill="#000" font-family='"Liberation Sans", sans-serif' >(26x26x4)</text>
<text x="255.50" y="410.80" font-size="12.2" text-anchor="middle" font-weight="bold" font-style="normal" fill="#000" font-family='"Liberation Sans", sans-serif' >(13x13x4)</text>
<text x="301.10" y="410.80" font-size="12.2" text-anchor="middle" font-weight="bold" font-style="normal" fill="#000" font-family='"Liberation Sans", sans-serif' >(676,)</text>
<text x="335.90" y="410.80" font-size="12.2" text-anchor="middle" font-weight="bold" font-style="normal" fill="#000" font-family='"Liberation Sans", sans-serif' >(50,)</text>
<text x="368.40" y="410.80" font-size="12.2" text-anchor="middle" font-weight="bold" font-style="normal" fill="#000" font-family='"Liberation Sans", sans-serif' >(10,)</text>
<text transform="translate(288,379.2) rotate(-90)" font-size="12.2" font-weight="bold" text-anchor="middle" font-family='"Liberation Sans", sans-serif'>Flatten</text>
<text transform="translate(323.3,379.7) rotate(-90)" font-size="12.2" font-weight="bold" text-anchor="middle" font-family='"Liberation Sans", sans-serif'>ReLU</text>
<text transform="translate(357,379.5) rotate(-90)" font-size="12.2" font-weight="bold" text-anchor="middle" font-family='"Liberation Sans", sans-serif'>Softmax</text>
</svg></body></html>
